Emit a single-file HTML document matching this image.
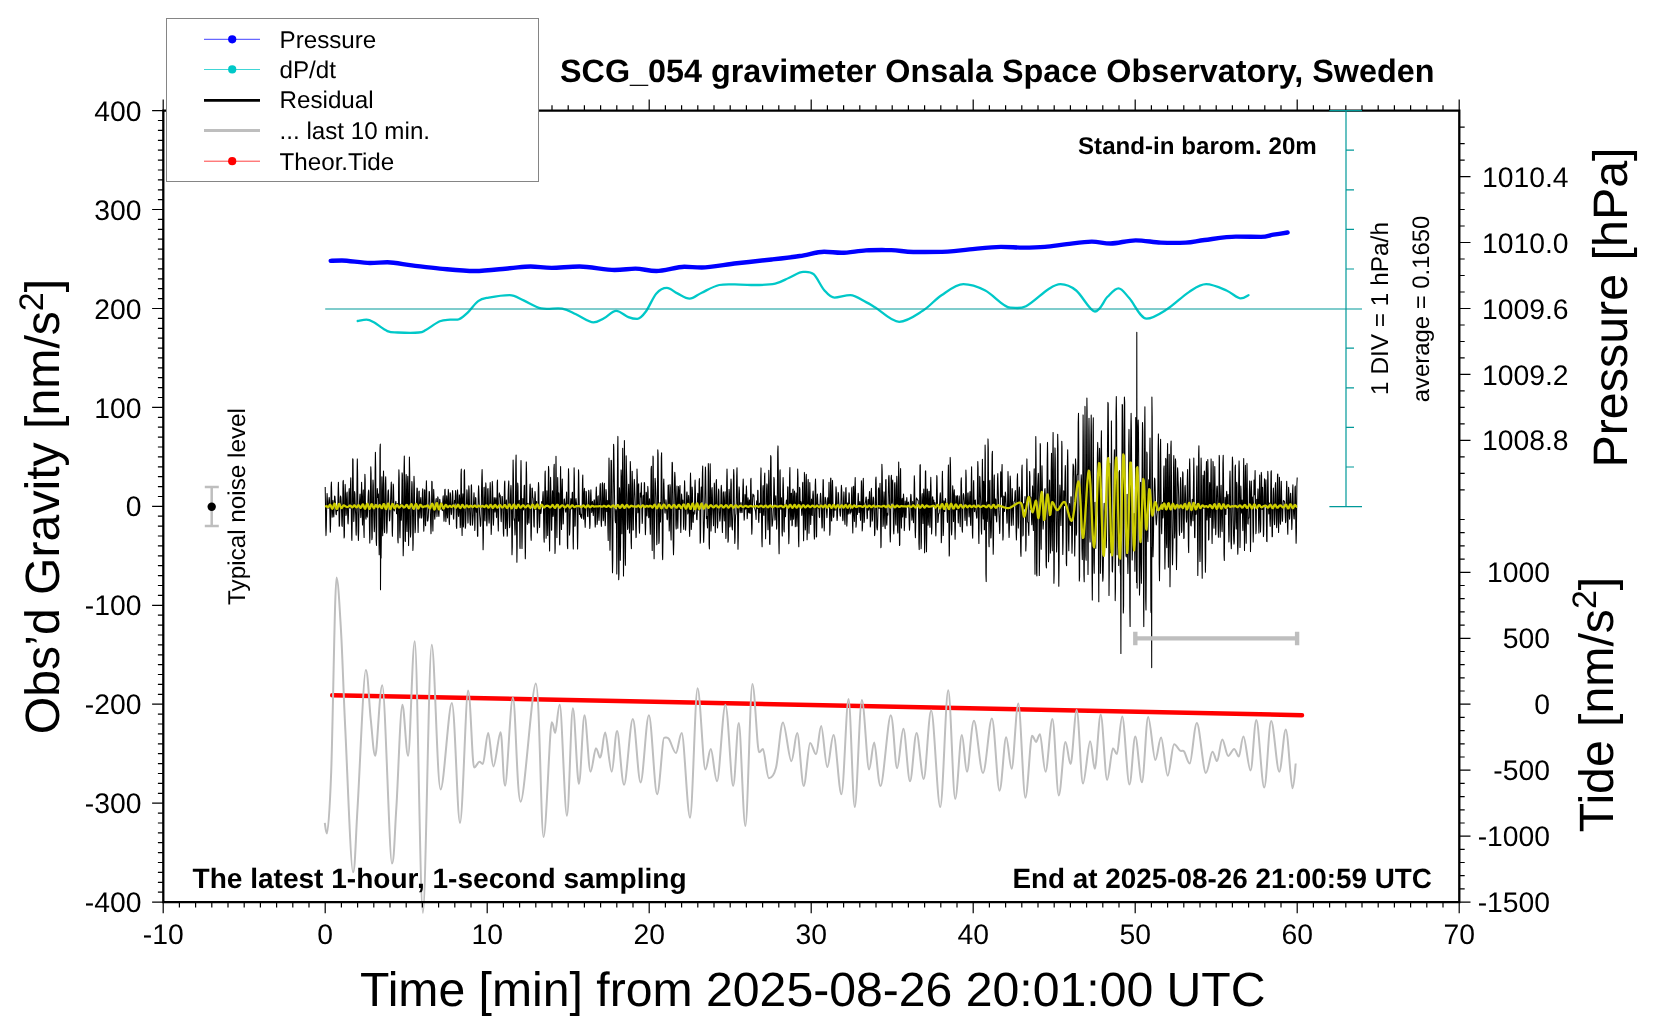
<!DOCTYPE html>
<html><head><meta charset="utf-8"><style>
html,body{margin:0;padding:0;background:#fff;}
svg{display:block;font-family:"Liberation Sans",sans-serif;will-change:transform;text-rendering:geometricPrecision;}
</style></head><body>
<svg width="1660" height="1020" viewBox="0 0 1660 1020">
<rect width="1660" height="1020" fill="#fff"/>
<path d="M332.2 695.2L1302 715.2" stroke="#ff0000" stroke-width="4.5" fill="none" stroke-linecap="round"/>
<path d="M324.8 822.9C325.1 824.7 325.8 833.5 326.9 833.5C328.0 833.5 329.6 814.4 331.2 771.7C332.8 729.1 334.9 577.6 336.5 577.6C338.1 577.6 339.5 605.3 341.0 630.6C342.5 655.9 343.3 689.1 345.3 729.4C347.3 769.7 350.9 872.3 353.0 872.3C355.1 872.3 355.5 840.7 357.6 807.0C359.7 773.3 363.6 670.1 365.8 670.1C368.0 670.1 369.1 704.5 370.7 718.8C372.3 733.1 373.4 755.8 375.3 755.8C377.2 755.8 379.5 685.3 382.3 685.3C385.1 685.3 389.5 863.5 391.9 863.5C394.2 863.5 394.6 833.5 396.4 807.0C398.1 780.5 400.4 704.7 402.4 704.7C404.3 704.7 406.0 755.8 408.1 755.8C410.2 755.8 412.3 641.2 414.8 641.2C417.3 641.2 420.1 912.9 422.9 912.9C425.7 912.9 428.8 644.7 431.7 644.7C434.6 644.7 437.2 789.4 440.6 789.4C444.0 789.4 448.6 702.9 451.8 702.9C455.0 702.9 457.3 822.9 460.0 822.9C462.7 822.9 465.8 690.6 468.1 690.6C470.5 690.6 472.2 767.5 474.1 767.5C476.0 767.5 477.9 761.8 479.4 761.8C480.9 761.8 481.4 764.0 482.9 764.0C484.4 764.0 486.4 732.9 488.2 732.9C490.0 732.9 491.4 766.4 493.5 766.4C495.6 766.4 498.6 732.2 500.5 732.2C502.4 732.2 503.0 785.8 505.1 785.8C507.2 785.8 510.3 697.6 512.9 697.6C515.5 697.6 516.9 801.7 520.7 801.7C524.5 801.7 532.0 683.5 535.8 683.5C539.6 683.5 541.0 837.0 543.6 837.0C546.2 837.0 549.8 722.3 551.7 722.3C553.6 722.3 553.9 732.9 555.2 732.9C556.6 732.9 557.8 704.7 559.8 704.7C561.8 704.7 564.7 815.8 566.9 815.8C569.1 815.8 570.9 708.2 572.9 708.2C574.9 708.2 577.0 784.0 578.9 784.0C580.8 784.0 582.6 715.3 584.5 715.3C586.4 715.3 588.6 771.7 590.5 771.7C592.4 771.7 594.3 748.3 595.9 748.3C597.5 748.3 598.9 757.7 599.9 757.7C600.9 757.7 600.9 756.0 601.8 751.8C602.7 747.6 603.6 732.5 605.3 732.5C606.9 732.5 609.7 771.8 611.7 771.8C613.7 771.8 615.0 731.1 617.1 731.1C619.2 731.1 621.5 784.8 624.1 784.8C626.7 784.8 630.0 718.9 632.8 718.9C635.5 718.9 637.9 782.4 640.6 782.4C643.3 782.4 646.1 715.3 648.9 715.3C651.6 715.3 654.5 794.2 657.1 794.2C659.7 794.2 662.2 737.7 664.2 737.7C666.2 737.7 667.0 736.4 668.9 738.9C670.8 741.4 673.8 753.0 675.9 753.0C678.0 753.0 679.4 733.0 681.8 733.0C684.1 733.0 687.4 817.7 690.0 817.7C692.6 817.7 695.1 688.3 697.6 688.3C700.1 688.3 703.1 769.5 705.3 769.5C707.5 769.5 708.8 749.0 710.8 749.0C712.8 749.0 714.7 781.3 717.1 781.3C719.5 781.3 722.7 704.7 725.4 704.7C728.1 704.7 730.9 786.0 733.1 786.0C735.3 786.0 736.8 723.1 738.8 723.1C740.8 723.1 743.1 826.0 745.4 826.0C747.7 826.0 750.1 684.0 752.4 684.0C754.7 684.0 757.2 752.3 759.0 752.3C760.8 752.3 761.4 749.0 763.0 749.0C764.6 749.0 766.7 778.2 768.9 778.2C771.1 778.2 773.6 777.1 776.0 767.8C778.4 758.5 780.5 722.4 783.0 722.4C785.5 722.4 788.9 761.2 791.3 761.2C793.7 761.2 795.1 733.0 797.2 733.0C799.3 733.0 801.6 786.0 803.7 786.0C805.9 786.0 808.1 742.9 810.1 742.9C812.1 742.9 814.1 754.2 816.0 754.2C817.9 754.2 819.3 725.9 821.2 725.9C823.1 725.9 825.2 767.1 827.3 767.1C829.4 767.1 831.2 734.9 833.6 734.9C836.0 734.9 838.9 794.2 841.4 794.2C843.9 794.2 846.3 698.9 848.5 698.9C850.7 698.9 852.6 807.1 854.8 807.1C857.0 807.1 859.5 700.0 861.9 700.0C864.3 700.0 867.0 769.5 869.0 769.5C871.0 769.5 872.3 742.4 874.2 742.4C876.1 742.4 877.9 786.0 880.6 786.0C883.4 786.0 888.0 715.3 890.7 715.3C893.5 715.3 895.0 768.3 897.1 768.3C899.2 768.3 901.2 728.8 903.4 728.8C905.5 728.8 907.8 781.3 910.0 781.3C912.2 781.3 914.3 733.0 916.6 733.0C918.9 733.0 921.3 778.9 923.7 778.9C926.1 778.9 928.5 710.6 931.2 710.6C934.0 710.6 937.4 807.1 940.2 807.1C943.0 807.1 945.7 690.2 948.2 690.2C950.7 690.2 952.9 798.9 955.2 798.9C957.5 798.9 959.8 734.9 961.8 734.9C963.8 734.9 965.0 771.8 967.0 771.8C969.0 771.8 971.3 720.8 974.0 720.8C976.7 720.8 980.0 773.0 983.0 773.0C986.0 773.0 989.1 718.4 991.9 718.4C994.6 718.4 997.1 790.7 999.5 790.7C1001.9 790.7 1004.1 737.2 1006.1 737.2C1008.1 737.2 1009.7 768.8 1011.7 768.8C1013.7 768.8 1016.0 703.6 1018.3 703.6C1020.6 703.6 1023.1 797.7 1025.4 797.7C1027.7 797.7 1030.2 735.8 1032.0 735.8C1033.8 735.8 1034.7 741.9 1036.0 741.9C1037.3 741.9 1038.4 734.2 1040.0 734.2C1041.6 734.2 1043.5 771.8 1045.6 771.8C1047.7 771.8 1050.2 718.9 1052.4 718.9C1054.6 718.9 1056.6 795.4 1058.8 795.4C1061.0 795.4 1063.4 741.9 1065.4 741.9C1067.4 741.9 1068.7 764.1 1070.6 764.1C1072.5 764.1 1074.6 709.9 1076.7 709.9C1078.8 709.9 1080.8 783.6 1083.0 783.6C1085.2 783.6 1088.1 741.2 1090.1 741.2C1092.1 741.2 1093.0 768.8 1094.8 768.8C1096.6 768.8 1098.7 714.6 1100.7 714.6C1102.8 714.6 1105.1 779.9 1107.1 779.9C1109.1 779.9 1111.3 748.2 1112.9 748.2C1114.5 748.2 1115.3 754.1 1116.9 754.1C1118.5 754.1 1120.2 716.4 1122.3 716.4C1124.4 716.4 1127.2 784.6 1129.4 784.6C1131.6 784.6 1133.2 736.4 1135.3 736.4C1137.4 736.4 1139.8 782.3 1141.9 782.3C1144.1 782.3 1146.0 716.9 1148.2 716.9C1150.4 716.9 1153.2 759.9 1155.3 759.9C1157.4 759.9 1159.0 737.6 1161.1 737.6C1163.2 737.6 1165.5 775.7 1167.7 775.7C1169.9 775.7 1172.0 744.2 1174.1 744.2C1176.1 744.2 1178.3 749.2 1180.0 750.5C1181.7 751.8 1182.6 749.5 1184.2 751.7C1185.8 753.9 1187.7 763.5 1189.8 763.5C1191.9 763.5 1194.2 723.0 1196.9 723.0C1199.6 723.0 1203.2 772.9 1205.8 772.9C1208.4 772.9 1210.5 751.7 1212.4 751.7C1214.3 751.7 1215.4 761.1 1217.1 761.1C1218.8 761.1 1220.4 739.5 1222.3 739.5C1224.2 739.5 1226.2 755.9 1228.2 755.9C1230.2 755.9 1232.3 748.9 1234.1 748.9C1235.9 748.9 1237.2 756.4 1238.8 756.4C1240.4 756.4 1241.5 736.4 1243.5 736.4C1245.5 736.4 1248.3 770.5 1250.5 770.5C1252.7 770.5 1254.1 720.0 1256.4 720.0C1258.7 720.0 1261.7 787.5 1264.2 787.5C1266.7 787.5 1268.7 721.1 1271.2 721.1C1273.7 721.1 1276.8 771.7 1279.2 771.7C1281.6 771.7 1283.6 729.4 1285.8 729.4C1288.0 729.4 1290.8 788.2 1292.4 788.2C1294.1 788.2 1295.2 767.6 1295.7 763.5" stroke="#bebebe" stroke-width="2.0" fill="none" stroke-linejoin="round"/>
<path d="M325.2 486.9L325.5 505.5L325.7 526.0L326.0 535.6L326.3 527.7L326.6 512.2L326.8 500.7L327.1 493.4L327.4 499.8L327.6 504.7L327.9 507.9L328.2 508.3L328.4 506.0L328.7 502.8L329.0 499.4L329.2 497.4L329.5 500.1L329.8 510.1L330.1 524.5L330.3 532.2L330.6 525.0L330.9 505.4L331.1 487.1L331.4 482.0L331.7 492.9L331.9 509.5L332.2 517.3L332.5 512.7L332.8 503.4L333.0 500.4L333.3 507.2L333.6 515.3L333.8 517.0L334.1 510.8L334.4 501.6L334.6 496.0L334.9 496.4L335.2 500.3L335.5 503.2L335.7 509.6L336.0 513.9L336.3 514.8L336.5 511.5L336.8 507.5L337.1 507.2L337.3 510.4L337.6 510.8L337.9 502.3L338.2 487.7L338.4 482.3L338.7 494.5L339.0 514.1L339.2 526.3L339.5 525.9L339.8 514.4L340.1 502.5L340.3 497.1L340.6 496.0L340.9 497.3L341.1 500.3L341.4 506.1L341.7 516.1L341.9 525.3L342.2 526.4L342.5 515.1L342.8 496.6L343.0 481.8L343.3 480.4L343.6 495.3L343.8 519.9L344.1 538.0L344.4 536.1L344.6 516.4L344.9 494.4L345.2 484.4L345.4 490.7L345.7 505.5L346.0 515.4L346.3 513.7L346.5 503.8L346.8 493.9L347.1 492.1L347.3 497.8L347.6 513.2L347.9 522.6L348.1 524.0L348.4 517.9L348.7 506.2L349.0 491.7L349.2 488.6L349.5 497.4L349.8 507.5L350.0 508.2L350.3 497.4L350.6 481.7L350.8 477.7L351.1 495.1L351.4 519.9L351.7 538.0L351.9 540.5L352.2 523.5L352.5 490.4L352.7 458.8L353.0 459.2L353.3 487.0L353.6 513.7L353.8 521.4L354.1 515.3L354.4 502.5L354.6 491.6L354.9 493.7L355.2 503.0L355.4 510.1L355.7 514.9L356.0 531.3L356.2 535.2L356.5 524.1L356.8 499.5L357.1 470.7L357.3 458.9L357.6 472.8L357.9 503.4L358.1 531.7L358.4 540.4L358.7 531.6L358.9 518.4L359.2 509.3L359.5 502.8L359.8 496.4L360.0 494.0L360.3 501.5L360.6 513.0L360.8 517.6L361.1 509.1L361.4 490.9L361.6 482.2L361.9 493.8L362.2 514.7L362.5 524.9L362.7 515.4L363.0 496.4L363.3 489.9L363.5 505.4L363.8 528.9L364.1 537.4L364.3 520.3L364.6 491.2L364.9 474.3L365.2 480.6L365.4 501.1L365.7 517.7L366.0 519.2L366.2 511.0L366.5 506.0L366.8 509.3L367.1 515.7L367.3 517.1L367.6 511.8L367.9 503.7L368.1 496.7L368.4 491.7L368.7 490.0L368.9 492.2L369.2 508.5L369.5 530.9L369.8 543.1L370.0 535.0L370.3 510.1L370.6 481.2L370.8 466.7L371.1 473.2L371.4 496.0L371.6 522.7L371.9 539.8L372.2 537.5L372.4 516.4L372.7 492.2L373.0 480.0L373.3 484.8L373.5 500.2L373.8 515.8L374.1 526.6L374.3 531.7L374.6 526.5L374.9 505.6L375.1 472.7L375.4 452.3L375.7 467.5L376.0 511.7L376.2 541.0L376.5 545.5L376.8 523.9L377.0 498.5L377.3 488.6L377.6 492.4L377.8 497.4L378.1 495.2L378.4 494.0L378.7 507.7L378.9 535.8L379.2 554.7L379.5 539.6L379.7 492.9L380.0 448.7L380.3 444.1L380.5 589.7L380.8 538.0L381.1 557.9L381.4 533.5L381.6 493.3L381.9 476.8L382.2 496.6L382.4 526.9L382.7 535.7L383.0 515.1L383.2 484.7L383.5 471.1L383.8 483.3L384.1 508.8L384.3 528.5L384.6 532.7L384.9 522.2L385.1 504.4L385.4 484.0L385.7 476.7L385.9 484.7L386.2 502.8L386.5 522.6L386.8 533.3L387.0 531.0L387.3 519.2L387.6 505.1L387.8 496.3L388.1 490.8L388.4 489.9L388.6 495.0L388.9 505.5L389.2 515.2L389.5 520.9L389.7 520.3L390.0 515.1L390.3 508.9L390.5 502.4L390.8 494.3L391.1 485.5L391.3 482.1L391.6 491.4L391.9 512.4L392.2 531.4L392.4 536.3L392.7 522.9L393.0 500.7L393.2 484.1L393.5 486.0L393.8 499.4L394.0 509.6L394.3 511.0L394.6 508.3L394.9 506.6L395.1 506.3L395.4 504.6L395.7 501.6L395.9 501.4L396.2 506.0L396.5 513.7L396.8 512.4L397.0 504.6L397.3 503.5L397.6 516.9L397.8 539.2L398.1 543.0L398.4 513.9L398.6 484.9L398.9 469.7L399.2 477.7L399.4 503.1L399.7 531.1L400.0 537.8L400.3 523.8L400.5 507.0L400.8 504.2L401.1 513.3L401.3 520.3L401.6 510.9L401.9 490.0L402.1 472.8L402.4 475.1L402.7 500.4L403.0 536.1L403.2 555.7L403.5 544.4L403.8 509.0L404.0 470.6L404.3 456.0L404.6 474.9L404.9 513.1L405.1 541.2L405.4 541.5L405.7 515.5L405.9 483.6L406.2 474.5L406.5 495.9L406.7 523.6L407.0 531.4L407.3 514.9L407.5 484.4L407.8 476.3L408.1 497.5L408.4 532.8L408.6 545.6L408.9 522.7L409.2 480.7L409.4 457.1L409.7 470.7L410.0 504.5L410.2 528.2L410.5 537.1L410.8 533.3L411.1 521.8L411.3 505.2L411.6 491.0L411.9 481.5L412.1 484.0L412.4 500.2L412.7 530.0L412.9 550.6L413.2 543.4L413.5 511.4L413.8 486.9L414.0 476.2L414.3 483.1L414.6 502.1L414.8 523.1L415.1 532.8L415.4 528.4L415.6 517.5L415.9 508.8L416.2 504.9L416.5 501.6L416.7 495.0L417.0 488.0L417.3 488.6L417.5 501.1L417.8 520.9L418.1 532.5L418.3 525.5L418.6 505.2L418.9 491.5L419.2 491.1L419.4 502.9L419.7 517.0L420.0 518.1L420.2 510.0L420.5 500.2L420.8 497.5L421.0 503.7L421.3 512.9L421.6 518.1L421.9 515.6L422.1 506.2L422.4 493.2L422.7 488.8L422.9 490.5L423.2 502.6L423.5 520.6L423.8 531.2L424.0 525.0L424.3 505.7L424.6 489.8L424.8 490.0L425.1 506.4L425.4 524.6L425.6 525.8L425.9 508.0L426.2 487.4L426.4 480.7L426.7 491.7L427.0 509.4L427.3 520.6L427.5 521.1L427.8 521.0L428.1 518.6L428.3 516.6L428.6 508.7L428.9 498.6L429.1 491.5L429.4 491.7L429.7 497.7L430.0 504.1L430.2 510.2L430.5 518.3L430.8 528.6L431.0 533.7L431.3 523.4L431.6 499.9L431.8 481.3L432.1 481.7L432.4 500.9L432.7 524.8L432.9 531.1L433.2 515.6L433.5 496.6L433.7 489.4L434.0 496.5L434.3 506.0L434.5 515.9L434.8 519.2L435.1 515.1L435.4 511.5L435.6 505.4L435.9 500.1L436.2 498.6L436.4 503.1L436.7 511.7L437.0 516.6L437.2 512.2L437.5 502.9L437.8 496.8L438.1 498.1L438.3 505.8L438.6 514.3L438.9 516.4L439.1 511.9L439.4 504.6L439.7 499.3L439.9 499.5L440.2 504.1L440.5 508.2L440.8 509.1L441.0 507.0L441.3 503.7L441.6 503.2L441.8 506.7L442.1 510.0L442.4 510.6L442.6 507.2L442.9 499.0L443.2 495.7L443.5 502.0L443.7 513.7L444.0 521.2L444.3 516.6L444.5 502.5L444.8 489.7L445.1 489.2L445.4 501.5L445.6 516.2L445.9 521.7L446.2 514.4L446.4 501.9L446.7 495.8L447.0 501.6L447.2 512.7L447.5 517.9L447.8 511.7L448.0 498.5L448.3 489.4L448.6 492.7L448.9 506.4L449.1 520.7L449.4 524.6L449.7 513.4L449.9 501.4L450.2 492.7L450.5 494.6L450.8 504.3L451.0 511.7L451.3 514.6L451.6 513.1L451.8 508.8L452.1 501.7L452.4 493.9L452.6 490.5L452.9 496.4L453.2 509.0L453.4 517.6L453.7 519.2L454.0 512.7L454.3 504.1L454.5 500.4L454.8 502.7L455.1 502.9L455.3 496.8L455.6 490.6L455.9 495.3L456.1 511.9L456.4 526.9L456.7 528.5L457.0 514.6L457.2 496.3L457.5 489.9L457.8 494.2L458.0 505.2L458.3 514.6L458.6 516.4L458.9 510.7L459.1 501.3L459.4 494.9L459.7 499.1L459.9 514.0L460.2 527.6L460.5 524.8L460.7 502.4L461.0 474.6L461.3 469.1L461.5 493.4L461.8 524.6L462.1 535.5L462.4 520.6L462.6 498.4L462.9 493.8L463.2 511.2L463.4 527.0L463.7 522.2L464.0 496.8L464.2 471.4L464.5 469.7L464.8 491.4L465.1 516.4L465.3 528.3L465.6 526.7L465.9 519.0L466.1 513.0L466.4 504.1L466.7 495.3L466.9 489.8L467.2 493.3L467.5 505.4L467.8 519.6L468.0 523.1L468.3 513.7L468.6 496.6L468.8 485.8L469.1 489.5L469.4 500.4L469.6 510.6L469.9 518.7L470.2 524.6L470.5 525.3L470.7 515.9L471.0 498.7L471.3 485.1L471.5 484.9L471.8 496.9L472.1 513.7L472.4 525.2L472.6 524.2L472.9 519.4L473.2 515.2L473.4 506.8L473.7 498.6L474.0 492.7L474.2 496.9L474.5 512.7L474.8 530.5L475.0 526.3L475.3 505.2L475.6 497.5L475.9 498.4L476.1 505.1L476.4 512.2L476.7 508.5L476.9 507.6L477.2 519.5L477.5 536.3L477.8 536.2L478.0 509.3L478.3 493.4L478.6 485.7L478.8 489.2L479.1 499.0L479.4 508.2L479.6 514.2L479.9 518.4L480.2 523.1L480.4 526.4L480.7 525.3L481.0 518.9L481.3 507.5L481.5 493.1L481.8 477.8L482.1 469.5L482.3 477.7L482.6 503.2L482.9 535.0L483.1 549.7L483.4 537.3L483.7 508.7L484.0 487.7L484.2 487.3L484.5 503.5L484.8 519.9L485.0 521.0L485.3 506.6L485.6 489.2L485.8 482.9L486.1 488.5L486.4 510.8L486.7 524.4L486.9 525.9L487.2 519.7L487.5 501.1L487.7 489.4L488.0 488.5L488.3 497.1L488.5 509.4L488.8 519.1L489.1 523.1L489.4 518.5L489.6 505.7L489.9 490.5L490.2 482.6L490.4 488.3L490.7 505.7L491.0 525.2L491.2 534.5L491.5 527.6L491.8 508.9L492.1 490.3L492.3 481.4L492.6 486.5L492.9 502.0L493.1 518.3L493.4 525.3L493.7 519.4L493.9 506.7L494.2 497.6L494.5 499.1L494.8 507.4L495.0 512.1L495.3 509.1L495.6 500.3L495.8 497.7L496.1 504.8L496.4 516.5L496.6 517.7L496.9 504.5L497.2 482.7L497.5 480.1L497.7 501.0L498.0 522.4L498.3 531.1L498.5 523.3L498.8 508.0L499.1 494.8L499.4 492.9L499.6 496.2L499.9 496.7L500.2 495.0L500.4 498.1L500.7 508.4L501.0 518.8L501.2 521.8L501.5 514.3L501.8 503.0L502.0 496.6L502.3 496.5L502.6 501.0L502.9 508.7L503.1 521.6L503.4 533.5L503.7 536.3L503.9 522.0L504.2 498.7L504.5 483.4L504.8 481.1L505.0 493.5L505.3 513.5L505.6 528.6L505.8 521.3L506.1 504.7L506.4 499.9L506.6 504.9L506.9 522.9L507.2 536.3L507.4 534.2L507.7 520.1L508.0 500.5L508.3 489.7L508.5 485.1L508.8 480.9L509.1 499.3L509.3 517.9L509.6 527.8L509.9 525.4L510.1 513.4L510.4 499.8L510.7 489.6L511.0 485.4L511.2 490.8L511.5 508.8L511.8 535.9L512.0 554.7L512.3 546.8L512.6 510.4L512.9 474.9L513.1 460.1L513.4 473.5L513.7 499.9L513.9 517.8L514.2 520.5L514.5 519.0L514.7 525.5L515.0 534.9L515.3 528.8L515.5 499.0L515.8 464.3L516.1 455.0L516.4 485.0L516.6 534.5L516.9 562.2L517.2 544.1L517.4 501.6L517.7 483.0L518.0 486.2L518.2 503.8L518.5 521.3L518.8 516.0L519.1 501.7L519.3 500.3L519.6 519.5L519.9 546.7L520.1 548.6L520.4 514.5L520.7 478.7L521.0 460.5L521.2 471.4L521.5 502.7L521.8 538.3L522.0 548.5L522.3 532.0L522.6 507.9L522.8 498.5L523.1 502.0L523.4 509.9L523.6 509.1L523.9 497.7L524.2 485.7L524.5 485.2L524.7 502.0L525.0 535.6L525.3 558.8L525.5 550.6L525.8 514.2L526.1 477.3L526.3 461.9L526.6 474.3L526.9 500.8L527.2 522.3L527.4 524.5L527.7 513.0L528.0 503.2L528.2 503.9L528.5 513.4L528.8 522.7L529.0 523.1L529.3 514.6L529.6 498.5L529.9 486.6L530.1 484.1L530.4 488.4L530.7 512.3L530.9 536.0L531.2 540.4L531.5 525.0L531.8 502.6L532.0 488.4L532.3 488.1L532.6 494.3L532.8 497.7L533.1 498.0L533.4 503.7L533.6 514.9L533.9 525.8L534.2 527.1L534.4 514.9L534.7 499.3L535.0 491.6L535.3 494.5L535.5 503.1L535.8 509.4L536.1 507.5L536.3 502.4L536.6 501.4L536.9 508.3L537.1 523.1L537.4 532.9L537.7 528.1L538.0 508.5L538.2 491.4L538.5 482.5L538.8 487.0L539.0 501.6L539.3 520.3L539.6 527.4L539.8 519.8L540.1 508.5L540.4 505.2L540.7 509.0L540.9 513.5L541.2 511.1L541.5 504.7L541.7 501.6L542.0 502.7L542.3 504.9L542.5 503.5L542.8 495.8L543.1 491.6L543.4 498.4L543.6 517.4L543.9 537.6L544.2 542.3L544.4 525.4L544.7 496.5L545.0 474.1L545.2 471.0L545.5 490.3L545.8 520.0L546.1 538.2L546.3 530.4L546.6 506.1L546.9 490.8L547.1 497.5L547.4 520.6L547.7 535.4L548.0 522.4L548.2 490.4L548.5 466.4L548.8 469.8L549.0 498.2L549.3 535.5L549.6 551.0L549.8 536.0L550.1 505.0L550.4 482.5L550.6 477.2L550.9 491.0L551.2 514.0L551.5 530.2L551.7 530.1L552.0 514.8L552.3 496.3L552.5 490.8L552.8 503.7L553.1 516.5L553.4 514.6L553.6 493.8L553.9 468.5L554.2 464.2L554.4 490.6L554.7 528.7L555.0 553.4L555.2 548.6L555.5 515.8L555.8 472.2L556.0 456.3L556.3 481.9L556.6 520.9L556.9 537.6L557.1 524.4L557.4 495.3L557.7 477.5L557.9 486.7L558.2 503.1L558.5 503.9L558.8 492.8L559.0 494.1L559.3 517.9L559.6 543.8L559.8 544.9L560.1 515.4L560.4 477.4L560.6 466.6L560.9 490.5L561.2 520.7L561.5 529.5L561.7 513.6L562.0 488.7L562.3 479.1L562.5 491.5L562.8 512.0L563.1 524.0L563.3 523.3L563.6 513.6L563.9 504.9L564.1 499.7L564.4 498.9L564.7 502.1L565.0 503.9L565.2 506.8L565.5 511.0L565.8 512.2L566.0 506.4L566.3 497.7L566.6 492.1L566.8 498.3L567.1 520.3L567.4 545.7L567.7 548.7L567.9 521.2L568.2 487.2L568.5 468.7L568.7 473.8L569.0 495.9L569.3 522.0L569.5 535.1L569.8 531.8L570.1 521.1L570.4 509.8L570.6 501.9L570.9 498.5L571.2 500.7L571.4 506.3L571.7 508.9L572.0 501.7L572.2 493.0L572.5 492.2L572.8 511.7L573.1 541.0L573.3 548.9L573.6 524.5L573.9 487.6L574.1 467.8L574.4 477.9L574.7 505.1L574.9 526.2L575.2 525.5L575.5 511.1L575.8 499.8L576.0 498.5L576.3 501.8L576.6 503.6L576.8 505.2L577.1 511.8L577.4 539.0L577.6 548.9L577.9 530.9L578.2 498.0L578.5 469.8L578.7 472.6L579.0 492.8L579.3 506.4L579.5 514.4L579.8 510.1L580.1 507.6L580.3 511.7L580.6 516.6L580.9 517.1L581.2 514.2L581.4 514.9L581.7 518.4L582.0 515.4L582.2 501.6L582.5 480.9L582.8 475.0L583.0 491.2L583.3 512.7L583.6 519.3L583.9 510.7L584.1 492.8L584.4 488.3L584.7 505.2L584.9 521.7L585.2 527.4L585.5 518.2L585.8 502.0L586.0 491.3L586.3 491.9L586.6 498.1L586.8 503.6L587.1 507.5L587.4 512.0L587.6 516.4L587.9 516.6L588.2 509.4L588.5 498.1L588.7 490.2L589.0 492.1L589.3 504.1L589.5 519.6L589.8 528.4L590.1 524.4L590.3 509.9L590.6 495.3L590.9 489.7L591.1 495.5L591.4 506.2L591.7 512.5L592.0 509.9L592.2 503.1L592.5 501.4L592.8 504.8L593.0 512.0L593.3 515.6L593.6 511.9L593.8 504.4L594.1 499.7L594.4 500.1L594.7 505.8L594.9 520.0L595.2 527.1L595.5 523.5L595.7 507.3L596.0 493.9L596.3 487.0L596.5 492.4L596.8 507.2L597.1 524.5L597.4 521.2L597.6 508.0L597.9 496.7L598.2 495.8L598.4 506.6L598.7 516.7L599.0 520.5L599.2 516.1L599.5 506.8L599.8 494.2L600.1 485.2L600.3 483.5L600.6 492.3L600.9 509.2L601.1 521.9L601.4 526.4L601.7 518.8L601.9 502.5L602.2 484.3L602.5 482.7L602.8 497.6L603.0 513.8L603.3 520.8L603.6 516.4L603.8 502.4L604.1 485.0L604.4 483.3L604.6 499.9L604.9 517.9L605.2 525.7L605.5 520.8L605.7 501.3L606.0 489.5L606.3 492.9L606.5 505.0L606.8 511.6L607.1 506.2L607.4 500.4L607.6 508.6L607.9 529.6L608.2 540.5L608.4 521.6L608.7 483.5L609.0 458.0L609.2 467.7L609.5 506.4L609.8 540.9L610.0 550.3L610.3 532.5L610.6 502.7L610.9 475.2L611.1 460.2L611.4 460.6L611.7 480.2L611.9 516.5L612.2 553.9L612.5 572.7L612.8 559.4L613.0 521.6L613.3 472.6L613.6 444.2L613.8 447.4L614.1 467.9L614.4 486.4L614.6 500.6L614.9 511.8L615.2 520.4L615.5 522.8L615.7 516.9L616.0 509.6L616.3 511.5L616.5 529.2L616.8 574.0L617.1 555.9L617.3 495.5L617.6 451.7L617.9 436.4L618.1 463.3L618.4 517.8L618.7 579.7L619.0 573.3L619.2 517.2L619.5 487.7L619.8 494.4L620.0 531.2L620.3 560.3L620.6 544.4L620.8 497.8L621.1 469.9L621.4 476.7L621.7 508.2L621.9 533.7L622.2 513.8L622.5 467.2L622.7 448.2L623.0 485.7L623.3 546.9L623.5 576.1L623.8 547.2L624.1 484.2L624.4 440.6L624.6 455.9L624.9 512.9L625.2 558.3L625.4 565.3L625.7 534.7L626.0 489.6L626.2 455.8L626.5 470.7L626.8 482.1L627.1 501.2L627.3 521.3L627.6 529.5L627.9 527.8L628.1 513.3L628.4 493.2L628.7 484.2L629.0 496.8L629.2 520.3L629.5 533.0L629.8 520.1L630.0 487.0L630.3 461.5L630.6 469.8L630.8 507.9L631.1 542.4L631.4 548.6L631.6 523.3L631.9 487.9L632.2 471.2L632.5 484.4L632.7 512.0L633.0 530.1L633.3 530.0L633.5 515.7L633.8 497.3L634.1 484.6L634.3 479.4L634.6 485.1L634.9 493.6L635.2 502.6L635.4 513.2L635.7 526.4L636.0 537.6L636.2 536.7L636.5 519.3L636.8 489.7L637.0 469.1L637.3 477.2L637.6 501.9L637.9 512.8L638.1 504.9L638.4 485.4L638.7 483.8L638.9 506.9L639.2 527.3L639.5 533.2L639.8 521.3L640.0 503.9L640.3 493.0L640.6 494.7L640.8 497.0L641.1 489.9L641.4 482.8L641.6 495.5L641.9 514.0L642.2 523.4L642.4 521.3L642.7 510.6L643.0 496.5L643.3 495.2L643.5 503.9L643.8 505.0L644.1 494.8L644.3 482.5L644.6 483.6L644.9 503.0L645.1 524.1L645.4 534.7L645.7 527.5L646.0 508.8L646.2 492.2L646.5 493.9L646.8 508.5L647.0 516.0L647.3 509.8L647.6 495.8L647.8 486.4L648.1 490.7L648.4 505.9L648.7 517.7L648.9 516.9L649.2 505.9L649.5 498.8L649.7 505.6L650.0 524.0L650.3 534.2L650.5 525.1L650.8 497.0L651.1 469.4L651.4 466.3L651.6 493.7L651.9 531.7L652.2 550.5L652.4 533.2L652.7 490.9L653.0 456.0L653.2 457.5L653.5 494.9L653.8 539.0L654.1 558.7L654.3 544.5L654.6 512.5L654.9 486.5L655.1 478.2L655.4 482.2L655.7 489.1L656.0 497.4L656.2 511.6L656.5 530.9L656.8 544.7L657.0 539.9L657.3 513.5L657.6 475.2L657.8 449.8L658.1 454.0L658.4 485.4L658.6 524.6L658.9 543.5L659.2 540.5L659.5 521.6L659.7 504.5L660.0 502.5L660.3 513.7L660.5 521.9L660.8 513.1L661.1 485.7L661.3 457.7L661.6 452.7L661.9 478.1L662.2 521.6L662.4 554.1L662.7 559.6L663.0 538.3L663.2 507.3L663.5 484.6L663.8 479.1L664.0 486.0L664.3 497.0L664.6 506.5L664.9 512.4L665.1 513.2L665.4 509.6L665.7 503.6L665.9 499.7L666.2 502.4L666.5 507.6L666.8 514.4L667.0 519.2L667.3 519.8L667.6 517.8L667.8 506.2L668.1 485.3L668.4 485.1L668.6 492.3L668.9 512.6L669.2 531.0L669.5 524.3L669.7 501.2L670.0 484.5L670.3 487.9L670.5 510.2L670.8 532.6L671.1 540.0L671.3 528.0L671.6 504.0L671.9 478.1L672.1 462.2L672.4 462.9L672.7 482.5L673.0 514.6L673.2 543.1L673.5 554.8L673.8 544.3L674.0 519.6L674.3 493.9L674.6 477.2L674.8 472.3L675.1 477.1L675.4 490.2L675.7 509.2L675.9 524.9L676.2 529.1L676.5 518.1L676.7 498.3L677.0 486.0L677.3 497.6L677.5 518.6L677.8 528.2L678.1 516.7L678.4 495.7L678.6 486.5L678.9 494.9L679.2 509.4L679.4 508.4L679.7 492.9L680.0 485.5L680.2 502.3L680.5 523.8L680.8 532.4L681.1 520.4L681.3 501.5L681.6 494.0L681.9 498.4L682.1 506.1L682.4 507.0L682.7 501.4L682.9 500.0L683.2 509.8L683.5 525.9L683.8 529.4L684.0 513.3L684.3 492.0L684.6 480.8L684.8 487.3L685.1 505.5L685.4 523.9L685.6 530.2L685.9 524.4L686.2 512.4L686.5 500.7L686.7 493.2L687.0 491.9L687.3 497.5L687.5 506.7L687.8 514.0L688.1 512.4L688.3 503.9L688.6 495.4L688.9 499.4L689.2 515.1L689.4 531.0L689.7 536.4L690.0 516.0L690.2 487.7L690.5 473.1L690.8 483.6L691.0 509.6L691.3 529.4L691.6 524.2L691.9 502.1L692.1 487.0L692.4 490.6L692.7 507.1L692.9 521.8L693.2 522.4L693.5 514.8L693.8 512.1L694.0 514.3L694.3 514.0L694.6 503.6L694.8 487.3L695.1 480.0L695.4 490.3L695.6 500.3L695.9 506.8L696.2 513.4L696.5 514.5L696.7 519.4L697.0 519.7L697.3 512.3L697.5 500.1L697.8 493.2L698.1 498.8L698.3 508.8L698.6 510.0L698.9 498.4L699.1 482.0L699.4 478.5L699.7 497.2L700.0 525.0L700.2 543.2L700.5 539.6L700.8 518.4L701.0 495.1L701.3 487.1L701.6 495.6L701.8 501.9L702.1 492.0L702.4 472.8L702.7 466.1L702.9 485.6L703.2 517.6L703.5 538.4L703.7 542.4L704.0 533.6L704.3 524.6L704.5 514.3L704.8 499.9L705.1 481.0L705.4 467.1L705.6 470.4L705.9 490.3L706.2 511.0L706.4 518.5L706.7 516.6L707.0 516.6L707.2 523.7L707.5 528.0L707.8 515.6L708.1 486.4L708.3 463.5L708.6 472.3L708.9 510.6L709.1 544.8L709.4 549.0L709.7 519.7L710.0 479.8L710.2 463.7L710.5 482.3L710.8 514.3L711.0 531.1L711.3 525.1L711.6 506.5L711.8 490.2L712.1 487.6L712.4 495.5L712.6 506.1L712.9 513.9L713.2 519.0L713.5 525.7L713.7 515.7L714.0 499.9L714.3 483.1L714.5 485.2L714.8 504.7L715.1 525.6L715.3 532.6L715.6 520.6L715.9 498.6L716.2 481.3L716.4 479.6L716.7 491.6L717.0 508.8L717.2 522.2L717.5 528.0L717.8 523.5L718.0 510.1L718.3 496.6L718.6 489.1L718.9 491.3L719.1 501.2L719.4 512.2L719.7 519.4L719.9 521.2L720.2 518.5L720.5 511.8L720.8 501.8L721.0 491.1L721.3 485.3L721.6 490.0L721.8 505.0L722.1 523.7L722.4 532.5L722.6 524.6L722.9 505.7L723.2 493.4L723.4 491.7L723.7 501.1L724.0 515.3L724.3 521.0L724.5 511.6L724.8 497.8L725.1 491.8L725.3 500.3L725.6 521.5L725.9 538.4L726.1 534.2L726.4 509.2L726.7 482.7L727.0 469.0L727.2 475.8L727.5 497.9L727.8 525.6L728.0 542.3L728.3 539.6L728.6 521.2L728.8 499.8L729.1 489.2L729.4 493.4L729.7 509.1L729.9 526.9L730.2 525.2L730.5 504.9L730.7 488.5L731.0 479.0L731.3 483.5L731.5 513.1L731.8 526.2L732.1 527.6L732.4 530.0L732.6 520.9L732.9 513.3L733.2 499.5L733.4 481.6L733.7 469.5L734.0 476.0L734.2 500.2L734.5 529.2L734.8 543.4L735.1 537.7L735.3 523.7L735.6 515.3L735.9 513.9L736.1 509.1L736.4 494.7L736.7 476.2L737.0 467.7L737.2 479.3L737.5 506.6L737.8 537.7L738.0 549.2L738.3 537.5L738.6 513.7L738.8 494.5L739.1 486.9L739.4 490.6L739.6 500.4L739.9 509.5L740.2 512.8L740.5 510.5L740.7 506.2L741.0 502.6L741.3 505.8L741.5 510.0L741.8 512.6L742.1 512.5L742.3 508.5L742.6 499.0L742.9 486.4L743.2 479.1L743.4 484.8L743.7 505.1L744.0 516.0L744.2 520.1L744.5 515.1L744.8 505.4L745.0 494.6L745.3 501.1L745.6 509.1L745.9 508.5L746.1 496.4L746.4 485.9L746.7 493.2L746.9 510.4L747.2 518.7L747.5 514.5L747.8 502.9L748.0 497.8L748.3 504.2L748.6 512.1L748.8 512.7L749.1 506.0L749.4 499.9L749.6 504.9L749.9 513.2L750.2 513.2L750.5 499.1L750.7 480.3L751.0 478.3L751.3 499.4L751.5 523.1L751.8 534.2L752.1 528.1L752.3 512.7L752.6 498.8L752.9 494.1L753.1 495.7L753.4 496.2L753.7 494.8L754.0 495.7L754.2 500.9L754.5 506.7L754.8 508.9L755.0 509.4L755.3 510.5L755.6 512.6L755.8 515.2L756.1 519.6L756.4 505.1L756.7 500.7L756.9 507.1L757.2 508.8L757.5 500.2L757.7 490.2L758.0 490.5L758.3 504.8L758.5 519.0L758.8 522.5L759.1 513.7L759.4 503.3L759.6 503.3L759.9 511.3L760.2 512.8L760.4 499.1L760.7 477.2L761.0 467.9L761.2 482.8L761.5 513.7L761.8 539.2L762.1 546.8L762.3 533.5L762.6 509.4L762.9 488.6L763.1 485.5L763.4 499.4L763.7 514.6L763.9 515.5L764.2 498.5L764.5 477.2L764.8 473.1L765.0 495.7L765.3 521.8L765.6 538.8L765.8 529.4L766.1 518.3L766.4 504.8L766.6 489.0L766.9 483.8L767.2 485.2L767.5 500.7L767.7 520.6L768.0 529.7L768.3 518.3L768.5 490.6L768.8 470.2L769.1 482.3L769.3 517.4L769.6 543.3L769.9 544.5L770.2 520.1L770.4 481.7L770.7 455.5L771.0 457.1L771.2 478.7L771.5 504.9L771.8 520.1L772.0 526.3L772.3 525.6L772.6 522.0L772.9 518.7L773.1 514.9L773.4 507.2L773.7 491.4L773.9 477.4L774.2 479.0L774.5 494.3L774.8 517.0L775.0 520.1L775.3 511.0L775.6 499.1L775.8 495.8L776.1 508.6L776.4 522.0L776.6 529.1L776.9 524.0L777.2 508.4L777.5 478.0L777.7 452.3L778.0 445.9L778.3 468.4L778.5 511.8L778.8 542.0L779.1 553.7L779.3 537.9L779.6 505.2L779.9 471.8L780.1 469.8L780.4 490.9L780.7 509.0L781.0 509.2L781.2 499.2L781.5 497.7L781.8 512.7L782.0 532.1L782.3 536.1L782.6 516.6L782.8 490.0L783.1 477.5L783.4 485.2L783.7 503.9L783.9 529.2L784.2 532.0L784.5 517.1L784.7 505.1L785.0 505.1L785.3 512.4L785.5 516.7L785.8 511.0L786.1 503.2L786.4 500.1L786.6 502.2L786.9 506.2L787.2 507.1L787.4 498.0L787.7 486.7L788.0 487.1L788.2 506.0L788.5 529.5L788.8 543.7L789.1 535.4L789.3 508.1L789.6 475.8L789.9 467.6L790.1 487.2L790.4 512.5L790.7 520.0L791.0 509.1L791.2 493.2L791.5 493.4L791.8 511.0L792.0 525.8L792.3 525.1L792.6 508.9L792.8 489.6L793.1 489.1L793.4 506.8L793.6 519.3L793.9 512.9L794.2 498.6L794.5 491.0L794.7 496.5L795.0 513.2L795.3 526.7L795.5 523.3L795.8 506.0L796.1 492.9L796.3 497.2L796.6 515.0L796.9 526.2L797.2 514.7L797.4 487.8L797.7 469.1L798.0 477.2L798.2 508.5L798.5 539.4L798.8 546.8L799.0 528.8L799.3 502.6L799.6 487.3L799.9 489.3L800.1 499.7L800.4 506.1L800.7 504.9L800.9 501.6L801.2 503.2L801.5 509.9L801.8 515.4L802.0 513.5L802.3 502.6L802.6 483.2L802.8 482.3L803.1 503.9L803.4 530.5L803.6 540.7L803.9 524.8L804.2 493.6L804.4 472.4L804.7 481.1L805.0 509.7L805.3 530.0L805.5 526.6L805.8 502.4L806.1 477.2L806.3 474.2L806.6 495.8L806.9 524.6L807.1 539.8L807.4 531.3L807.7 505.6L808.0 482.1L808.2 479.4L808.5 498.9L808.8 524.6L809.0 533.3L809.3 517.6L809.6 493.3L809.8 482.6L810.1 493.0L810.4 513.2L810.7 524.5L810.9 518.4L811.2 504.6L811.5 499.0L811.7 505.3L812.0 515.1L812.3 515.5L812.5 504.3L812.8 495.0L813.1 491.0L813.4 495.0L813.6 505.0L813.9 521.4L814.2 535.1L814.4 539.1L814.7 527.6L815.0 503.4L815.2 485.5L815.5 479.0L815.8 489.5L816.1 512.6L816.3 537.0L816.6 536.5L816.9 515.8L817.1 498.3L817.4 494.0L817.7 499.8L818.0 506.9L818.2 508.2L818.5 505.2L818.8 504.9L819.0 510.3L819.3 516.9L819.6 517.6L819.8 510.6L820.1 500.9L820.4 494.4L820.6 493.2L820.9 496.7L821.2 502.8L821.5 510.9L821.7 520.5L822.0 528.0L822.3 527.1L822.5 514.1L822.8 494.4L823.1 479.6L823.3 479.8L823.6 495.9L823.9 517.9L824.2 530.9L824.4 527.1L824.7 512.8L825.0 501.0L825.2 497.2L825.5 498.4L825.8 500.0L826.0 501.6L826.3 506.0L826.6 513.1L826.9 517.8L827.1 515.0L827.4 506.4L827.7 497.7L827.9 500.2L828.2 506.8L828.5 504.9L828.8 491.5L829.0 482.2L829.3 493.9L829.6 518.8L829.8 535.3L830.1 530.4L830.4 507.0L830.6 478.6L830.9 478.1L831.2 502.7L831.5 520.7L831.7 521.0L832.0 506.2L832.3 485.2L832.5 480.4L832.8 491.9L833.1 507.9L833.3 515.8L833.6 517.4L833.9 516.0L834.1 510.7L834.4 506.7L834.7 507.1L835.0 509.9L835.2 510.3L835.5 504.9L835.8 494.0L836.0 486.8L836.3 490.2L836.6 503.7L836.8 515.4L837.1 520.6L837.4 517.7L837.7 509.5L837.9 498.6L838.2 492.4L838.5 494.0L838.7 499.6L839.0 504.2L839.3 506.4L839.5 508.0L839.8 511.4L840.1 515.3L840.4 516.3L840.6 511.9L840.9 502.0L841.2 489.6L841.4 485.3L841.7 489.2L842.0 498.6L842.2 507.6L842.5 515.6L842.8 520.8L843.1 519.4L843.3 510.3L843.6 498.2L843.9 491.9L844.1 496.1L844.4 508.2L844.7 520.7L845.0 524.5L845.2 515.8L845.5 500.1L845.8 488.4L846.0 487.5L846.3 498.5L846.6 515.6L846.8 526.1L847.1 521.2L847.4 508.4L847.6 502.9L847.9 506.5L848.2 514.1L848.5 511.9L848.7 501.0L849.0 492.7L849.3 494.4L849.5 504.5L849.8 513.0L850.1 513.9L850.3 510.5L850.6 509.8L850.9 512.4L851.2 511.1L851.4 501.0L851.7 488.5L852.0 487.0L852.2 502.8L852.5 524.3L852.8 533.0L853.0 520.6L853.3 498.1L853.6 486.3L853.9 496.0L854.1 514.8L854.4 521.4L854.7 508.4L854.9 486.2L855.2 477.6L855.5 491.3L855.8 514.5L856.0 527.3L856.3 523.6L856.6 512.0L856.8 506.2L857.1 509.9L857.4 514.5L857.6 509.6L857.9 499.8L858.2 493.2L858.4 495.3L858.7 505.0L859.0 512.5L859.3 512.1L859.5 505.7L859.8 501.6L860.1 507.0L860.3 516.9L860.6 520.4L860.9 510.2L861.2 491.3L861.4 480.7L861.7 490.7L862.0 514.3L862.2 531.0L862.5 528.0L862.8 507.8L863.0 484.2L863.3 478.3L863.6 492.7L863.8 512.6L864.1 522.4L864.4 520.2L864.7 511.9L864.9 505.2L865.2 502.7L865.5 502.2L865.7 500.1L866.0 497.1L866.3 497.1L866.5 502.6L866.8 511.8L867.1 518.7L867.4 518.0L867.6 510.3L867.9 501.4L868.2 499.4L868.4 505.2L868.7 510.2L869.0 507.5L869.2 497.7L869.5 491.6L869.8 498.3L870.1 514.5L870.3 526.9L870.6 524.4L870.9 508.1L871.1 492.2L871.4 488.3L871.7 497.4L872.0 511.6L872.2 521.2L872.5 519.1L872.8 509.1L873.0 500.7L873.3 497.1L873.6 498.1L873.8 502.5L874.1 510.1L874.4 521.9L874.6 535.6L874.9 533.5L875.2 515.8L875.5 494.8L875.7 480.0L876.0 477.1L876.3 488.0L876.5 505.7L876.8 526.9L877.1 529.1L877.3 529.9L877.6 525.5L877.9 515.5L878.2 501.2L878.4 489.1L878.7 487.9L879.0 498.2L879.2 508.5L879.5 506.4L879.8 492.3L880.0 483.2L880.3 495.4L880.6 524.3L880.9 547.8L881.1 546.0L881.4 518.5L881.7 483.1L881.9 464.3L882.2 471.5L882.5 494.5L882.8 516.1L883.0 526.4L883.3 524.1L883.6 512.4L883.8 498.1L884.1 491.9L884.4 500.9L884.6 517.2L884.9 526.7L885.2 528.8L885.5 495.6L885.7 479.8L886.0 479.5L886.3 500.7L886.5 522.4L886.8 525.3L887.1 517.6L887.3 513.3L887.6 515.3L887.9 515.1L888.1 506.5L888.4 489.2L888.7 477.1L889.0 475.4L889.2 482.4L889.5 497.5L889.8 516.8L890.0 534.6L890.3 541.9L890.6 530.7L890.8 507.2L891.1 478.0L891.4 475.3L891.7 491.8L891.9 503.3L892.2 496.9L892.5 482.7L892.7 480.0L893.0 498.4L893.3 516.3L893.5 530.0L893.8 533.9L894.1 525.2L894.4 509.1L894.6 484.1L894.9 482.5L895.2 489.1L895.4 509.9L895.7 523.5L896.0 525.2L896.2 511.3L896.5 487.5L896.8 476.2L897.1 486.2L897.3 511.4L897.6 530.7L897.9 533.1L898.1 514.0L898.4 480.9L898.7 462.1L898.9 477.6L899.2 516.4L899.5 545.4L899.8 544.8L900.0 514.4L900.3 477.9L900.6 468.5L900.8 489.9L901.1 517.9L901.4 528.1L901.7 516.1L901.9 500.3L902.2 498.2L902.5 507.7L902.7 517.0L903.0 512.0L903.3 499.8L903.5 494.1L903.8 499.0L904.1 514.3L904.3 530.6L904.6 525.6L904.9 509.1L905.2 501.0L905.4 503.6L905.7 513.2L906.0 517.7L906.2 511.1L906.5 502.0L906.8 497.5L907.0 500.5L907.3 503.5L907.6 505.8L907.9 505.6L908.1 503.4L908.4 502.0L908.7 504.2L908.9 512.9L909.2 524.3L909.5 530.3L909.8 524.4L910.0 514.3L910.3 501.9L910.6 497.7L910.8 494.2L911.1 495.7L911.4 503.0L911.6 514.1L911.9 520.2L912.2 515.7L912.5 505.7L912.7 501.4L913.0 507.0L913.3 519.0L913.5 522.7L913.8 509.6L914.1 488.6L914.3 475.8L914.6 483.1L914.9 506.4L915.1 530.6L915.4 537.7L915.7 527.0L916.0 510.4L916.2 500.4L916.5 497.9L916.8 498.4L917.0 498.8L917.3 499.3L917.6 500.1L917.8 500.1L918.1 500.3L918.4 504.7L918.7 522.1L918.9 543.3L919.2 549.6L919.5 532.6L919.7 491.0L920.0 465.0L920.3 464.7L920.5 488.7L920.8 524.5L921.1 548.7L921.4 541.8L921.6 516.1L921.9 497.6L922.2 493.6L922.4 501.1L922.7 515.9L923.0 523.4L923.2 512.1L923.5 495.9L923.8 489.1L924.1 499.7L924.3 530.7L924.6 552.8L924.9 537.7L925.1 497.2L925.4 471.3L925.7 470.9L926.0 496.0L926.2 535.3L926.5 551.7L926.8 532.6L927.0 501.9L927.3 489.0L927.6 493.8L927.8 510.1L928.1 525.2L928.4 521.6L928.6 504.2L928.9 491.3L929.2 491.5L929.5 505.9L929.7 524.4L930.0 527.4L930.3 510.9L930.5 487.2L930.8 477.3L931.1 491.1L931.3 517.4L931.6 534.1L931.9 527.7L932.2 510.4L932.4 497.6L932.7 496.7L933.0 503.0L933.2 504.4L933.5 501.7L933.8 500.1L934.0 502.8L934.3 506.2L934.6 505.6L934.9 502.5L935.1 504.6L935.4 517.3L935.7 532.9L935.9 535.9L936.2 518.5L936.5 492.5L936.8 475.6L937.0 477.0L937.3 492.9L937.6 511.6L937.8 522.5L938.1 521.7L938.4 516.6L938.6 513.8L938.9 513.7L939.2 512.9L939.4 508.6L939.7 502.3L940.0 496.2L940.3 492.8L940.5 495.2L940.8 504.3L941.1 527.1L941.3 542.7L941.6 535.4L941.9 506.2L942.2 479.5L942.4 471.3L942.7 487.7L943.0 516.4L943.2 535.6L943.5 530.5L943.8 511.8L944.0 500.7L944.3 502.9L944.6 510.7L944.8 511.5L945.1 503.9L945.4 498.4L945.7 499.5L945.9 505.0L946.2 507.2L946.5 504.5L946.7 503.3L947.0 510.1L947.3 520.8L947.5 522.4L947.8 506.2L948.1 478.1L948.4 465.1L948.6 485.0L948.9 525.7L949.2 556.1L949.4 553.8L949.7 520.3L950.0 478.7L950.2 457.4L950.5 464.9L950.8 489.0L951.1 513.3L951.3 529.1L951.6 534.9L951.9 529.5L952.1 513.7L952.4 495.0L952.7 485.8L953.0 492.3L953.2 506.6L953.5 521.6L953.8 509.8L954.0 496.1L954.3 489.8L954.6 500.9L954.8 527.0L955.1 539.3L955.4 528.6L955.6 506.4L955.9 495.8L956.2 500.6L956.5 509.6L956.7 509.8L957.0 497.1L957.3 495.5L957.5 496.7L957.8 504.1L958.1 520.1L958.3 523.0L958.6 514.6L958.9 502.7L959.2 495.9L959.4 498.5L959.7 510.0L960.0 523.1L960.2 526.8L960.5 516.8L960.8 498.3L961.0 481.8L961.3 477.8L961.6 490.3L961.9 512.5L962.1 529.7L962.4 532.3L962.7 521.1L962.9 505.8L963.2 495.5L963.5 493.5L963.8 495.4L964.0 497.3L964.3 500.7L964.6 508.3L964.8 517.2L965.1 520.6L965.4 513.8L965.6 492.2L965.9 470.0L966.2 477.6L966.5 505.6L966.7 523.9L967.0 526.0L967.3 515.3L967.5 502.0L967.8 493.3L968.1 492.9L968.3 498.1L968.6 506.7L968.9 513.1L969.1 516.9L969.4 508.4L969.7 496.8L970.0 491.6L970.2 506.9L970.5 522.7L970.8 525.4L971.0 509.3L971.3 480.7L971.6 466.8L971.8 480.7L972.1 511.4L972.4 533.2L972.7 538.2L972.9 525.3L973.2 503.6L973.5 483.3L973.7 480.5L974.0 497.5L974.3 507.8L974.5 511.7L974.8 506.6L975.1 500.6L975.4 500.0L975.6 505.4L975.9 510.4L976.2 513.4L976.4 515.6L976.7 518.2L977.0 517.4L977.2 507.2L977.5 481.7L977.8 461.6L978.1 468.6L978.3 504.7L978.6 534.0L978.9 543.5L979.1 527.4L979.4 498.9L979.7 476.3L979.9 477.1L980.2 488.5L980.5 497.1L980.8 504.6L981.0 516.3L981.3 530.6L981.6 534.2L981.8 518.6L982.1 481.7L982.4 459.3L982.7 480.0L982.9 512.8L983.2 518.9L983.5 497.5L983.7 481.3L984.0 499.2L984.3 529.8L984.5 529.7L984.8 487.6L985.1 445.0L985.3 453.8L985.6 514.5L985.9 574.3L986.2 581.6L986.4 540.8L986.7 502.4L987.0 501.9L987.2 521.6L987.5 517.8L987.8 478.1L988.0 438.9L988.3 448.3L988.6 496.5L988.9 542.8L989.1 546.8L989.4 511.2L989.7 481.3L989.9 480.3L990.2 503.7L990.5 527.5L990.8 538.0L991.0 537.9L991.3 531.5L991.6 514.9L991.8 484.6L992.1 454.8L992.4 451.2L992.6 484.0L992.9 529.7L993.2 554.3L993.5 543.6L993.7 510.3L994.0 479.2L994.3 474.9L994.5 493.2L994.8 511.9L995.1 515.8L995.3 508.2L995.6 498.9L995.9 499.8L996.1 510.1L996.4 519.7L996.7 521.9L997.0 514.7L997.2 498.9L997.5 479.5L997.8 473.6L998.0 481.6L998.3 492.6L998.6 505.9L998.8 511.9L999.1 516.6L999.4 526.0L999.7 533.5L999.9 529.6L1000.2 512.7L1000.5 484.6L1000.7 471.8L1001.0 482.6L1001.3 497.0L1001.5 493.6L1001.8 471.9L1002.1 464.4L1002.4 490.6L1002.6 523.1L1002.9 540.1L1003.2 535.9L1003.4 516.9L1003.7 496.0L1004.0 496.3L1004.2 506.8L1004.5 511.4L1004.8 505.8L1005.1 497.0L1005.3 492.0L1005.6 493.5L1005.9 498.4L1006.1 503.5L1006.4 509.2L1006.7 516.5L1007.0 523.2L1007.2 521.8L1007.5 508.5L1007.8 484.9L1008.0 471.5L1008.3 480.8L1008.6 507.8L1008.8 529.5L1009.1 537.4L1009.4 527.9L1009.6 508.4L1009.9 486.6L1010.2 476.1L1010.5 481.1L1010.7 498.4L1011.0 516.7L1011.3 525.6L1011.5 520.0L1011.8 503.9L1012.1 488.6L1012.3 489.0L1012.6 503.8L1012.9 518.5L1013.2 525.2L1013.4 518.5L1013.7 507.9L1014.0 501.8L1014.2 501.2L1014.5 501.3L1014.8 498.0L1015.0 492.5L1015.3 490.5L1015.6 497.4L1015.9 513.5L1016.1 531.7L1016.4 539.9L1016.7 529.6L1016.9 504.1L1017.2 479.8L1017.5 473.8L1017.8 491.1L1018.0 515.8L1018.3 528.1L1018.6 522.4L1018.8 504.9L1019.1 492.0L1019.4 487.1L1019.6 489.7L1019.9 497.2L1020.2 509.9L1020.4 531.7L1020.7 552.2L1021.0 556.4L1021.3 533.8L1021.5 496.1L1021.8 470.3L1022.1 465.1L1022.3 482.9L1022.6 511.2L1022.9 536.0L1023.2 534.6L1023.4 517.1L1023.7 504.0L1024.0 503.5L1024.2 508.5L1024.5 508.8L1024.8 501.9L1025.0 496.6L1025.3 500.8L1025.6 524.9L1025.8 551.1L1026.1 544.3L1026.4 506.7L1026.7 469.6L1026.9 458.9L1027.2 478.0L1027.5 505.6L1027.7 522.0L1028.0 522.4L1028.3 523.3L1028.5 531.7L1028.8 535.4L1029.1 520.6L1029.4 491.9L1029.6 471.4L1029.9 476.4L1030.2 499.1L1030.4 509.5L1030.7 503.5L1031.0 497.1L1031.2 506.4L1031.5 518.4L1031.8 524.7L1032.1 514.8L1032.3 495.1L1032.6 485.9L1032.9 499.2L1033.1 523.2L1033.4 530.4L1033.7 506.7L1034.0 474.8L1034.2 468.8L1034.5 502.6L1034.8 556.2L1035.0 574.3L1035.3 531.5L1035.6 467.8L1035.8 436.6L1036.1 460.0L1036.4 518.8L1036.6 573.0L1036.9 576.0L1037.2 540.1L1037.5 502.6L1037.7 486.6L1038.0 479.1L1038.3 473.3L1038.5 475.9L1038.8 497.4L1039.1 543.5L1039.3 575.6L1039.6 558.5L1039.9 503.5L1040.2 443.5L1040.4 445.2L1040.7 497.1L1041.0 543.4L1041.2 549.2L1041.5 516.8L1041.8 478.4L1042.0 465.8L1042.3 482.3L1042.6 509.1L1042.9 525.5L1043.1 529.2L1043.4 524.0L1043.7 515.7L1043.9 507.4L1044.2 501.4L1044.5 494.8L1044.8 489.4L1045.0 488.5L1045.3 495.4L1045.6 512.6L1045.8 541.8L1046.1 565.1L1046.4 567.9L1046.6 541.7L1046.9 496.1L1047.2 460.3L1047.5 442.4L1047.7 453.6L1048.0 488.6L1048.3 534.9L1048.5 561.7L1048.8 553.7L1049.1 521.8L1049.3 491.1L1049.6 480.0L1049.9 495.0L1050.1 526.9L1050.4 553.1L1050.7 545.2L1051.0 504.8L1051.2 469.9L1051.5 453.2L1051.8 481.4L1052.0 534.9L1052.3 550.8L1052.6 516.0L1052.8 456.1L1053.1 432.4L1053.4 471.8L1053.7 540.1L1053.9 583.2L1054.2 573.7L1054.5 524.0L1054.7 470.8L1055.0 447.9L1055.3 458.9L1055.5 484.6L1055.8 508.4L1056.1 526.2L1056.4 542.4L1056.6 552.1L1056.9 543.1L1057.2 510.1L1057.4 462.8L1057.7 434.3L1058.0 447.0L1058.2 494.4L1058.5 555.9L1058.8 586.2L1059.1 564.4L1059.3 528.4L1059.6 497.5L1059.9 485.1L1060.1 488.8L1060.4 502.7L1060.7 519.9L1060.9 525.6L1061.2 508.5L1061.5 477.2L1061.8 441.2L1062.0 446.7L1062.3 494.2L1062.6 537.5L1062.8 554.4L1063.1 542.3L1063.4 513.7L1063.7 490.8L1063.9 492.0L1064.2 501.2L1064.5 505.7L1064.7 495.8L1065.0 477.7L1065.3 465.6L1065.5 472.1L1065.8 498.5L1066.1 535.8L1066.3 563.4L1066.6 565.8L1066.9 540.2L1067.2 498.8L1067.4 462.5L1067.7 449.8L1068.0 468.0L1068.2 506.7L1068.5 540.3L1068.8 550.7L1069.0 537.4L1069.3 516.3L1069.6 503.5L1069.9 510.4L1070.1 523.4L1070.4 525.5L1070.7 513.5L1070.9 496.8L1071.2 496.8L1071.5 517.8L1071.8 543.0L1072.0 553.3L1072.3 542.3L1072.6 520.8L1072.8 477.4L1073.1 464.1L1073.4 466.1L1073.6 465.7L1073.9 471.2L1074.2 501.3L1074.5 535.2L1074.7 555.9L1075.0 541.5L1075.3 495.9L1075.5 458.9L1075.8 464.5L1076.1 503.1L1076.3 535.2L1076.6 532.2L1076.9 500.9L1077.1 476.4L1077.4 474.0L1077.7 474.6L1078.0 455.3L1078.2 423.1L1078.5 413.3L1078.8 451.6L1079.0 526.2L1079.3 581.1L1079.6 576.7L1079.8 533.2L1080.1 495.8L1080.4 490.9L1080.7 493.2L1080.9 486.7L1081.2 474.7L1081.5 479.6L1081.7 523.0L1082.0 550.2L1082.3 559.6L1082.5 546.0L1082.8 472.6L1083.1 414.9L1083.4 445.6L1083.6 541.8L1083.9 575.1L1084.2 581.7L1084.4 550.7L1084.7 469.6L1085.0 406.4L1085.2 434.6L1085.5 514.9L1085.8 555.9L1086.1 560.2L1086.3 517.3L1086.6 443.4L1086.9 398.0L1087.1 411.2L1087.4 468.2L1087.7 538.1L1088.0 574.6L1088.2 557.5L1088.5 476.8L1088.8 429.3L1089.0 418.2L1089.3 444.3L1089.6 493.4L1089.8 537.4L1090.1 542.1L1090.4 514.5L1090.6 475.7L1090.9 435.5L1091.2 415.0L1091.5 436.9L1091.7 510.7L1092.0 572.4L1092.3 600.1L1092.5 579.2L1092.8 523.7L1093.1 426.7L1093.3 417.8L1093.6 498.0L1093.9 562.8L1094.2 573.3L1094.4 557.7L1094.7 519.5L1095.0 502.2L1095.2 527.0L1095.5 545.6L1095.8 548.5L1096.0 536.7L1096.3 523.9L1096.6 512.8L1096.9 502.3L1097.1 485.8L1097.4 452.9L1097.7 442.4L1097.9 450.0L1098.2 472.1L1098.5 566.9L1098.8 601.8L1099.0 544.1L1099.3 458.7L1099.6 448.2L1099.8 456.2L1100.1 513.4L1100.4 573.3L1100.6 549.6L1100.9 480.3L1101.2 441.3L1101.4 430.7L1101.7 465.0L1102.0 524.1L1102.3 559.3L1102.5 571.6L1102.8 581.3L1103.1 577.1L1103.3 567.1L1103.6 545.0L1103.9 511.0L1104.2 503.2L1104.4 519.5L1104.7 534.0L1105.0 529.1L1105.2 514.7L1105.5 509.5L1105.8 524.7L1106.0 543.1L1106.3 547.8L1106.6 533.8L1106.8 513.2L1107.1 490.2L1107.4 457.7L1107.7 427.0L1107.9 402.4L1108.2 403.8L1108.5 440.4L1108.7 532.5L1109.0 595.4L1109.3 570.2L1109.5 501.9L1109.8 463.3L1110.1 476.7L1110.4 527.7L1110.6 552.8L1110.9 541.2L1111.2 472.4L1111.4 420.9L1111.7 459.5L1112.0 557.5L1112.2 571.0L1112.5 572.0L1112.8 559.8L1113.1 542.7L1113.3 524.5L1113.6 513.7L1113.9 492.3L1114.1 462.5L1114.4 449.7L1114.7 472.2L1115.0 536.3L1115.2 600.6L1115.5 587.5L1115.8 479.9L1116.0 415.3L1116.3 396.6L1116.6 423.0L1116.8 488.2L1117.1 554.7L1117.4 537.4L1117.6 488.0L1117.9 471.7L1118.2 501.5L1118.5 547.8L1118.7 565.5L1119.0 553.7L1119.3 505.8L1119.5 470.5L1119.8 492.9L1120.1 549.7L1120.3 571.9L1120.6 575.5L1120.9 653.4L1121.2 552.9L1121.4 535.3L1121.7 501.4L1122.0 444.8L1122.2 404.4L1122.5 405.4L1122.8 445.1L1123.0 533.5L1123.3 613.0L1123.6 606.1L1123.9 514.2L1124.1 431.6L1124.4 397.1L1124.7 402.5L1124.9 445.2L1125.2 499.4L1125.5 534.9L1125.8 550.9L1126.0 555.7L1126.3 556.9L1126.6 552.1L1126.8 523.5L1127.1 494.2L1127.4 521.9L1127.6 558.0L1127.9 573.4L1128.2 561.6L1128.5 509.2L1128.7 446.0L1129.0 429.4L1129.3 460.7L1129.5 526.8L1129.8 607.1L1130.1 626.5L1130.3 561.6L1130.6 455.9L1130.9 424.3L1131.1 413.3L1131.4 430.7L1131.7 471.7L1132.0 535.6L1132.2 560.1L1132.5 548.4L1132.8 533.6L1133.0 534.7L1133.3 544.9L1133.6 548.0L1133.8 532.4L1134.1 513.6L1134.4 521.4L1134.7 551.5L1134.9 571.2L1135.2 550.9L1135.5 477.1L1135.7 417.4L1136.0 427.0L1136.3 481.7L1136.5 582.4L1136.8 332.3L1137.1 588.1L1137.4 499.1L1137.6 448.1L1137.9 427.4L1138.2 420.1L1138.4 427.4L1138.7 456.5L1139.0 512.7L1139.2 568.6L1139.5 595.1L1139.8 584.0L1140.1 550.3L1140.3 497.8L1140.6 482.2L1140.9 519.2L1141.1 563.8L1141.4 583.3L1141.7 559.9L1141.9 502.3L1142.2 451.3L1142.5 422.6L1142.8 431.5L1143.0 462.6L1143.3 525.3L1143.6 609.4L1143.8 626.6L1144.1 567.6L1144.4 476.4L1144.7 421.9L1144.9 406.7L1145.2 451.9L1145.5 536.8L1145.7 599.7L1146.0 609.9L1146.3 572.1L1146.5 507.9L1146.8 452.0L1147.1 454.3L1147.3 502.6L1147.6 536.6L1147.9 541.8L1148.2 519.2L1148.4 489.9L1148.7 479.8L1149.0 487.9L1149.2 495.9L1149.5 480.7L1149.8 452.3L1150.0 438.1L1150.3 467.9L1150.6 543.5L1150.9 610.4L1151.1 612.6L1151.4 547.6L1151.7 667.6L1151.9 397.1L1152.2 417.3L1152.5 488.1L1152.8 541.8L1153.0 556.8L1153.3 545.5L1153.6 527.6L1153.8 512.2L1154.1 493.8L1154.4 481.0L1154.6 478.1L1154.9 479.3L1155.2 489.6L1155.5 503.7L1155.7 512.9L1156.0 520.8L1156.3 525.0L1156.5 523.5L1156.8 518.2L1157.1 513.8L1157.3 512.2L1157.6 506.5L1157.9 482.9L1158.1 449.8L1158.4 433.9L1158.7 459.7L1159.0 518.1L1159.2 564.6L1159.5 580.7L1159.8 555.4L1160.0 506.1L1160.3 454.2L1160.6 439.2L1160.8 460.7L1161.1 498.9L1161.4 526.1L1161.7 533.7L1161.9 524.0L1162.2 508.9L1162.5 502.2L1162.7 509.2L1163.0 518.0L1163.3 514.6L1163.5 493.6L1163.8 468.8L1164.1 465.9L1164.4 493.3L1164.6 540.9L1164.9 569.0L1165.2 551.5L1165.4 502.9L1165.7 458.4L1166.0 459.6L1166.2 502.6L1166.5 543.0L1166.8 547.7L1167.1 510.0L1167.3 458.4L1167.6 443.6L1167.9 482.0L1168.1 540.1L1168.4 567.3L1168.7 540.0L1169.0 484.1L1169.2 454.2L1169.5 480.5L1169.8 544.8L1170.0 586.8L1170.3 561.4L1170.6 494.0L1170.8 447.8L1171.1 441.0L1171.4 467.0L1171.6 500.1L1171.9 529.2L1172.2 548.6L1172.5 564.7L1172.7 558.3L1173.0 543.1L1173.3 506.6L1173.5 470.5L1173.8 455.5L1174.1 472.9L1174.3 509.6L1174.6 538.1L1174.9 531.1L1175.2 494.1L1175.4 458.9L1175.7 461.3L1176.0 504.0L1176.2 550.7L1176.5 569.6L1176.8 550.7L1177.0 512.6L1177.3 479.1L1177.6 467.7L1177.9 472.7L1178.1 480.6L1178.4 487.2L1178.7 498.5L1178.9 515.3L1179.2 530.2L1179.5 535.4L1179.8 526.2L1180.0 507.4L1180.3 487.1L1180.6 477.5L1180.8 483.2L1181.1 501.0L1181.4 520.5L1181.6 532.5L1181.9 530.2L1182.2 513.3L1182.4 488.8L1182.7 471.8L1183.0 473.7L1183.3 494.2L1183.5 520.8L1183.8 538.4L1184.1 538.0L1184.3 521.8L1184.6 501.0L1184.9 487.3L1185.2 485.4L1185.4 491.9L1185.7 501.2L1186.0 510.0L1186.2 517.7L1186.5 522.1L1186.8 518.0L1187.0 502.4L1187.3 479.7L1187.6 469.5L1187.8 484.6L1188.1 517.7L1188.4 546.0L1188.7 552.6L1188.9 531.9L1189.2 496.0L1189.5 465.2L1189.7 458.9L1190.0 475.1L1190.3 499.4L1190.5 517.1L1190.8 525.2L1191.1 525.9L1191.4 521.7L1191.6 513.7L1191.9 504.6L1192.2 499.3L1192.4 503.1L1192.7 515.2L1193.0 520.8L1193.2 501.0L1193.5 480.3L1193.8 458.1L1194.1 477.0L1194.3 514.8L1194.6 537.4L1194.9 537.7L1195.1 519.8L1195.4 504.2L1195.7 504.7L1196.0 514.5L1196.2 513.4L1196.5 492.6L1196.8 467.9L1197.0 465.9L1197.3 498.1L1197.6 548.4L1197.8 575.6L1198.1 554.4L1198.4 499.4L1198.6 454.9L1198.9 445.8L1199.2 472.8L1199.5 514.7L1199.7 550.6L1200.0 561.5L1200.3 546.7L1200.5 512.6L1200.8 478.1L1201.1 458.1L1201.3 467.1L1201.6 503.3L1201.9 558.7L1202.2 578.3L1202.4 548.8L1202.7 501.2L1203.0 475.3L1203.2 481.9L1203.5 502.1L1203.8 508.3L1204.0 491.6L1204.3 471.0L1204.6 472.1L1204.9 502.7L1205.1 547.3L1205.4 572.2L1205.7 558.6L1205.9 516.8L1206.2 471.1L1206.5 461.6L1206.8 491.3L1207.0 520.1L1207.3 515.2L1207.6 484.0L1207.8 459.6L1208.1 472.5L1208.4 514.4L1208.6 540.0L1208.9 539.3L1209.2 515.7L1209.5 486.4L1209.7 482.5L1210.0 505.4L1210.3 517.5L1210.5 511.4L1210.8 482.5L1211.1 458.9L1211.3 469.4L1211.6 509.1L1211.9 535.2L1212.1 543.6L1212.4 527.7L1212.7 494.5L1213.0 461.4L1213.2 464.8L1213.5 498.6L1213.8 523.9L1214.0 528.3L1214.3 510.6L1214.6 478.2L1214.8 466.5L1215.1 487.4L1215.4 518.4L1215.7 534.7L1215.9 531.3L1216.2 518.6L1216.5 497.9L1216.7 488.8L1217.0 486.1L1217.3 486.6L1217.5 491.7L1217.8 506.6L1218.1 526.8L1218.4 537.3L1218.6 526.2L1218.9 494.0L1219.2 455.4L1219.4 457.5L1219.7 494.6L1220.0 528.7L1220.2 537.3L1220.5 521.0L1220.8 497.0L1221.1 485.2L1221.3 494.4L1221.6 514.0L1221.9 529.4L1222.1 531.8L1222.4 523.4L1222.7 489.5L1222.9 463.3L1223.2 455.2L1223.5 476.1L1223.8 516.5L1224.0 554.6L1224.3 560.4L1224.6 537.0L1224.8 507.5L1225.1 497.3L1225.4 503.2L1225.7 513.7L1225.9 514.5L1226.2 503.6L1226.5 493.1L1226.7 491.3L1227.0 499.2L1227.3 508.1L1227.5 507.3L1227.8 498.7L1228.1 494.4L1228.3 505.2L1228.6 527.2L1228.9 542.0L1229.2 534.4L1229.4 506.5L1229.7 481.7L1230.0 471.0L1230.2 479.2L1230.5 499.4L1230.8 523.2L1231.0 541.8L1231.3 548.8L1231.6 538.6L1231.9 510.3L1232.1 477.5L1232.4 457.0L1232.7 461.8L1232.9 487.1L1233.2 515.8L1233.5 534.2L1233.8 541.2L1234.0 544.1L1234.3 541.6L1234.6 524.4L1234.8 493.4L1235.1 467.2L1235.4 465.1L1235.6 488.7L1235.9 519.9L1236.2 528.9L1236.5 506.2L1236.7 482.3L1237.0 485.3L1237.3 514.2L1237.5 544.4L1237.8 554.2L1238.1 544.4L1238.3 517.7L1238.6 488.3L1238.9 466.0L1239.1 460.9L1239.4 472.6L1239.7 518.9L1240.0 547.4L1240.2 539.7L1240.5 505.4L1240.8 486.0L1241.0 489.2L1241.3 506.1L1241.6 513.1L1241.8 507.1L1242.1 500.1L1242.4 509.7L1242.7 527.0L1242.9 530.6L1243.2 508.0L1243.5 470.3L1243.7 458.5L1244.0 488.7L1244.3 532.2L1244.5 550.4L1244.8 528.5L1245.1 486.3L1245.4 465.2L1245.6 487.2L1245.9 526.3L1246.2 543.3L1246.4 524.0L1246.7 485.6L1247.0 463.4L1247.2 475.5L1247.5 505.2L1247.8 523.3L1248.1 524.2L1248.3 518.3L1248.6 518.3L1248.9 518.0L1249.1 508.3L1249.4 490.5L1249.7 480.9L1250.0 492.1L1250.2 524.4L1250.5 551.6L1250.8 533.1L1251.0 498.9L1251.3 481.0L1251.6 492.1L1251.8 506.6L1252.1 505.3L1252.4 497.1L1252.6 502.6L1252.9 526.0L1253.2 542.1L1253.5 531.2L1253.7 504.4L1254.0 480.1L1254.3 487.5L1254.5 494.8L1254.8 484.1L1255.1 470.6L1255.3 483.2L1255.6 515.6L1255.9 533.7L1256.2 529.9L1256.4 511.1L1256.7 499.3L1257.0 502.3L1257.2 507.7L1257.5 503.6L1257.8 492.7L1258.0 488.9L1258.3 502.0L1258.6 523.2L1258.9 532.9L1259.1 519.1L1259.4 490.7L1259.7 475.0L1259.9 491.5L1260.2 518.9L1260.5 532.0L1260.8 523.5L1261.0 497.2L1261.3 472.4L1261.6 476.1L1261.8 498.2L1262.1 509.4L1262.4 501.1L1262.6 487.2L1262.9 496.4L1263.2 519.9L1263.4 536.6L1263.7 534.1L1264.0 512.7L1264.3 485.9L1264.5 478.7L1264.8 492.4L1265.1 506.5L1265.3 503.6L1265.6 487.9L1265.9 479.7L1266.2 494.5L1266.4 521.5L1266.7 541.4L1267.0 541.6L1267.2 521.2L1267.5 491.3L1267.8 471.2L1268.0 474.7L1268.3 494.1L1268.6 510.8L1268.8 513.9L1269.1 507.9L1269.4 503.0L1269.7 509.2L1269.9 520.8L1270.2 526.4L1270.5 517.2L1270.7 494.3L1271.0 472.3L1271.3 470.7L1271.5 490.4L1271.8 518.2L1272.1 536.7L1272.4 536.5L1272.6 522.3L1272.9 504.4L1273.2 491.9L1273.4 488.0L1273.7 493.8L1274.0 506.7L1274.2 520.1L1274.5 524.8L1274.8 514.5L1275.1 500.8L1275.3 485.5L1275.6 482.6L1275.9 493.7L1276.1 511.3L1276.4 524.1L1276.7 527.7L1277.0 518.2L1277.2 497.0L1277.5 475.0L1277.8 474.0L1278.0 497.1L1278.3 522.1L1278.6 532.4L1278.8 522.1L1279.1 497.9L1279.4 477.2L1279.6 481.9L1279.9 506.0L1280.2 522.3L1280.5 524.3L1280.7 511.7L1281.0 491.5L1281.3 481.2L1281.5 488.7L1281.8 506.7L1282.1 518.4L1282.3 521.5L1282.6 520.0L1282.9 508.5L1283.2 502.1L1283.4 500.4L1283.7 500.9L1284.0 501.3L1284.2 501.1L1284.5 501.5L1284.8 504.1L1285.0 509.7L1285.3 517.3L1285.6 522.8L1285.9 520.6L1286.1 508.2L1286.4 491.7L1286.7 481.2L1286.9 486.0L1287.2 505.2L1287.5 526.9L1287.8 534.3L1288.0 522.2L1288.3 501.0L1288.6 487.2L1288.8 490.0L1289.1 504.5L1289.4 517.5L1289.6 519.3L1289.9 510.5L1290.2 499.4L1290.5 493.8L1290.7 493.3L1291.0 501.8L1291.3 512.3L1291.5 518.8L1291.8 529.6L1292.1 522.5L1292.3 502.8L1292.6 491.1L1292.9 484.7L1293.1 495.9L1293.4 507.8L1293.7 515.2L1294.0 518.7L1294.2 519.0L1294.5 512.7L1294.8 499.8L1295.0 487.6L1295.3 486.1L1295.6 500.9L1295.8 527.5L1296.1 543.2L1296.4 533.1L1296.7 504.8L1296.9 483.9L1297.2 477.5" stroke="#000" stroke-width="1.05" fill="none" stroke-linejoin="round"/>
<path d="M325.2 506.9L325.7 506.5L326.3 506.2L326.8 506.3L327.4 506.7L327.9 507.1L328.4 506.9L329.0 506.1L329.5 505.2L330.1 504.7L330.6 505.2L331.1 506.5L331.7 507.9L332.2 508.7L332.8 508.2L333.3 506.6L333.8 504.8L334.4 503.7L334.9 504.0L335.5 505.5L336.0 507.5L336.5 508.9L337.1 508.9L337.6 507.7L338.2 505.8L338.7 504.4L339.2 504.0L339.8 504.8L340.3 506.2L340.9 507.5L341.4 508.1L341.9 507.8L342.5 506.9L343.0 506.0L343.6 505.4L344.1 505.4L344.6 505.7L345.2 506.1L345.7 506.5L346.3 506.7L346.8 506.9L347.3 507.0L347.9 506.9L348.4 506.6L349.0 506.1L349.5 505.6L350.0 505.5L350.6 505.7L351.1 506.4L351.7 507.0L352.2 507.4L352.7 507.1L353.3 506.4L353.8 505.7L354.4 505.3L354.9 505.6L355.4 506.4L356.0 507.1L356.5 507.4L357.1 507.0L357.6 506.1L358.1 505.3L358.7 505.1L359.2 505.7L359.8 506.8L360.3 507.8L360.8 507.9L361.4 507.1L361.9 505.7L362.5 504.6L363.0 504.4L363.5 505.3L364.1 506.9L364.6 508.3L365.2 508.7L365.7 507.8L366.2 506.0L366.8 504.4L367.3 503.8L367.9 504.5L368.4 506.3L368.9 508.1L369.5 508.9L370.0 508.3L370.6 506.7L371.1 504.9L371.6 504.1L372.2 504.5L372.7 505.9L373.3 507.4L373.8 508.2L374.3 507.8L374.9 506.6L375.4 505.4L376.0 505.0L376.5 505.5L377.0 506.6L377.6 507.3L378.1 507.3L378.7 506.5L379.2 505.5L379.7 505.0L380.3 505.6L380.8 506.8L381.4 507.9L381.9 508.1L382.4 507.2L383.0 505.5L383.5 504.2L384.1 504.1L384.6 505.3L385.1 507.3L385.7 508.8L386.2 509.0L386.8 507.6L387.3 505.5L387.8 503.8L388.4 503.6L388.9 504.9L389.5 507.0L390.0 508.7L390.5 509.0L391.1 507.8L391.6 505.9L392.2 504.3L392.7 504.0L393.2 504.9L393.8 506.6L394.3 508.0L394.9 508.3L395.4 507.6L395.9 506.3L396.5 505.1L397.0 504.8L397.6 505.3L398.1 506.3L398.6 507.2L399.2 507.6L399.7 507.3L400.3 506.6L400.8 505.8L401.3 505.3L401.9 505.3L402.4 505.8L403.0 506.5L403.5 507.1L404.0 507.5L404.6 507.3L405.1 506.7L405.7 505.9L406.2 505.2L406.7 504.9L407.3 505.4L407.8 506.4L408.4 507.5L408.9 508.2L409.4 507.9L410.0 506.8L410.5 505.4L411.1 504.3L411.6 504.2L412.1 505.3L412.7 507.0L413.2 508.4L413.8 508.8L414.3 507.9L414.8 506.3L415.4 504.6L415.9 503.9L416.5 504.5L417.0 505.9L417.5 507.5L418.1 508.5L418.6 508.2L419.2 507.1L419.7 505.7L420.2 504.9L420.8 504.8L421.3 505.5L421.9 506.5L422.4 507.1L422.9 507.2L423.5 506.9L424.0 506.5L424.6 506.3L425.1 506.4L425.6 506.5L426.2 506.4L426.7 505.9L427.3 505.4L427.8 505.3L428.3 505.9L428.9 506.9L429.4 507.9L430.0 508.3L430.5 507.6L431.0 506.0L431.6 504.4L432.1 503.7L432.7 504.3L433.2 506.1L433.7 508.2L434.3 509.5L434.8 509.1L435.4 507.3L435.9 504.9L436.4 503.3L437.0 503.2L437.5 504.8L438.1 507.1L438.6 509.0L439.1 509.5L439.7 508.4L440.2 506.2L440.8 504.3L441.3 503.6L441.8 504.3L442.4 506.0L442.9 507.7L443.5 508.5L444.0 508.2L444.5 506.9L445.1 505.6L445.6 504.9L446.2 505.1L446.7 505.9L447.2 506.8L447.8 507.2L448.3 507.0L448.9 506.5L449.4 505.9L449.9 505.8L450.5 506.2L451.0 506.7L451.6 507.0L452.1 506.8L452.6 506.2L453.2 505.5L453.7 505.3L454.3 505.8L454.8 506.6L455.3 507.5L455.9 507.7L456.4 507.2L457.0 506.2L457.5 505.1L458.0 504.7L458.6 505.2L459.1 506.3L459.7 507.5L460.2 508.0L460.7 507.7L461.3 506.6L461.8 505.4L462.4 504.8L462.9 505.1L463.4 506.0L464.0 507.1L464.5 507.6L465.1 507.4L465.6 506.6L466.1 505.8L466.7 505.3L467.2 505.6L467.8 506.3L468.3 506.9L468.8 507.2L469.4 506.8L469.9 506.2L470.5 505.7L471.0 505.7L471.5 506.2L472.1 506.8L472.6 507.1L473.2 506.9L473.7 506.3L474.2 505.7L474.8 505.5L475.3 505.9L475.9 506.5L476.4 507.0L476.9 507.1L477.5 506.7L478.0 506.1L478.6 505.7L479.1 505.8L479.6 506.2L480.2 506.7L480.7 506.8L481.3 506.6L481.8 506.1L482.3 505.9L482.9 506.0L483.4 506.5L484.0 506.9L484.5 507.0L485.0 506.6L485.6 505.9L486.1 505.4L486.7 505.4L487.2 506.1L487.7 507.0L488.3 507.6L488.8 507.5L489.4 506.7L489.9 505.6L490.4 504.9L491.0 505.0L491.5 505.9L492.1 507.1L492.6 507.9L493.1 507.8L493.7 507.0L494.2 505.8L494.8 505.0L495.3 504.9L495.8 505.6L496.4 506.6L496.9 507.5L497.5 507.7L498.0 507.3L498.5 506.4L499.1 505.6L499.6 505.1L500.2 505.2L500.7 505.8L501.2 506.6L501.8 507.3L502.3 507.6L502.9 507.3L503.4 506.6L503.9 505.7L504.5 505.1L505.0 505.0L505.6 505.7L506.1 506.7L506.6 507.7L507.2 508.0L507.7 507.5L508.3 506.3L508.8 505.1L509.3 504.5L509.9 504.9L510.4 506.1L511.0 507.5L511.5 508.3L512.0 508.1L512.6 506.9L513.1 505.4L513.7 504.5L514.2 504.5L514.7 505.6L515.3 507.0L515.8 508.0L516.4 508.1L516.9 507.2L517.4 505.9L518.0 504.9L518.5 504.7L519.1 505.4L519.6 506.5L520.1 507.4L520.7 507.7L521.2 507.3L521.8 506.5L522.3 505.7L522.8 505.2L523.4 505.4L523.9 505.9L524.5 506.6L525.0 507.2L525.5 507.4L526.1 507.1L526.6 506.5L527.2 505.8L527.7 505.3L528.2 505.3L528.8 505.7L529.3 506.6L529.9 507.4L530.4 507.8L530.9 507.4L531.5 506.4L532.0 505.3L532.6 504.6L533.1 504.9L533.6 505.9L534.2 507.3L534.7 508.2L535.3 508.2L535.8 507.1L536.3 505.6L536.9 504.5L537.4 504.4L538.0 505.3L538.5 506.8L539.0 508.0L539.6 508.3L540.1 507.6L540.7 506.3L541.2 505.1L541.7 504.7L542.3 505.1L542.8 506.1L543.4 507.0L543.9 507.5L544.4 507.4L545.0 506.9L545.5 506.3L546.1 505.9L546.6 505.8L547.1 505.7L547.7 505.8L548.2 506.0L548.8 506.4L549.3 506.9L549.8 507.3L550.4 507.3L550.9 506.9L551.5 506.1L552.0 505.3L552.5 504.9L553.1 505.2L553.6 506.2L554.2 507.3L554.7 507.9L555.2 507.8L555.8 506.9L556.3 505.8L556.9 504.9L557.4 504.8L557.9 505.4L558.5 506.4L559.0 507.3L559.6 507.7L560.1 507.4L560.6 506.8L561.2 506.0L561.7 505.5L562.3 505.3L562.8 505.5L563.3 506.0L563.9 506.6L564.4 507.1L565.0 507.4L565.5 507.2L566.0 506.7L566.6 506.0L567.1 505.3L567.7 505.2L568.2 505.5L568.7 506.3L569.3 507.1L569.8 507.6L570.4 507.4L570.9 506.7L571.4 505.9L572.0 505.3L572.5 505.4L573.1 505.8L573.6 506.5L574.1 507.0L574.7 507.1L575.2 506.8L575.8 506.4L576.3 506.2L576.8 506.1L577.4 506.1L577.9 506.2L578.5 506.1L579.0 506.1L579.5 506.2L580.1 506.5L580.6 506.9L581.2 507.0L581.7 506.9L582.2 506.4L582.8 505.7L583.3 505.4L583.9 505.5L584.4 506.1L584.9 506.9L585.5 507.4L586.0 507.4L586.6 506.7L587.1 505.9L587.6 505.3L588.2 505.4L588.7 505.9L589.3 506.6L589.8 507.1L590.3 507.2L590.9 506.8L591.4 506.2L592.0 505.8L592.5 505.8L593.0 506.0L593.6 506.4L594.1 506.6L594.7 506.6L595.2 506.5L595.7 506.3L596.3 506.3L596.8 506.3L597.4 506.4L597.9 506.4L598.4 506.3L599.0 506.2L599.5 506.1L600.1 506.2L600.6 506.4L601.1 506.6L601.7 506.7L602.2 506.7L602.8 506.4L603.3 506.1L603.8 505.9L604.4 505.9L604.9 506.2L605.5 506.6L606.0 506.9L606.5 506.9L607.1 506.6L607.6 506.1L608.2 505.8L608.7 505.7L609.2 506.0L609.8 506.5L610.3 506.9L610.9 507.1L611.4 506.9L611.9 506.4L612.5 505.8L613.0 505.4L613.6 505.6L614.1 506.1L614.6 506.9L615.2 507.4L615.7 507.4L616.3 506.8L616.8 505.9L617.3 505.2L617.9 505.1L618.4 505.6L619.0 506.6L619.5 507.5L620.0 507.8L620.6 507.4L621.1 506.4L621.7 505.3L622.2 504.8L622.7 505.1L623.3 506.0L623.8 507.2L624.4 507.9L624.9 507.7L625.4 506.9L626.0 505.8L626.5 505.1L627.1 505.0L627.6 505.7L628.1 506.6L628.7 507.3L629.2 507.4L629.8 507.0L630.3 506.4L630.8 505.9L631.4 505.7L631.9 505.9L632.5 506.3L633.0 506.4L633.5 506.5L634.1 506.4L634.6 506.4L635.2 506.5L635.7 506.7L636.2 506.8L636.8 506.6L637.3 506.1L637.9 505.6L638.4 505.5L638.9 505.9L639.5 506.6L640.0 507.2L640.6 507.4L641.1 507.0L641.6 506.3L642.2 505.6L642.7 505.3L643.3 505.7L643.8 506.4L644.3 507.0L644.9 507.1L645.4 506.8L646.0 506.3L646.5 505.9L647.0 505.9L647.6 506.3L648.1 506.7L648.7 506.7L649.2 506.4L649.7 505.9L650.3 505.6L650.8 505.9L651.4 506.5L651.9 507.3L652.4 507.6L653.0 507.1L653.5 506.1L654.1 505.1L654.6 504.7L655.1 505.1L655.7 506.4L656.2 507.6L656.8 508.3L657.3 508.0L657.8 506.8L658.4 505.3L658.9 504.4L659.5 504.5L660.0 505.5L660.5 506.9L661.1 508.0L661.6 508.3L662.2 507.7L662.7 506.5L663.2 505.3L663.8 504.6L664.3 504.8L664.9 505.6L665.4 506.8L665.9 507.7L666.5 508.0L667.0 507.6L667.6 506.6L668.1 505.6L668.6 505.0L669.2 504.9L669.7 505.5L670.3 506.4L670.8 507.3L671.3 507.8L671.9 507.6L672.4 506.9L673.0 505.9L673.5 505.1L674.0 504.9L674.6 505.3L675.1 506.2L675.7 507.2L676.2 507.7L676.7 507.7L677.3 507.1L677.8 506.1L678.4 505.2L678.9 504.8L679.4 505.1L680.0 506.1L680.5 507.2L681.1 508.0L681.6 508.0L682.1 507.2L682.7 505.9L683.2 504.8L683.8 504.4L684.3 505.0L684.8 506.4L685.4 507.9L685.9 508.6L686.5 508.1L687.0 506.6L687.5 504.9L688.1 503.9L688.6 504.2L689.2 505.7L689.7 507.6L690.2 508.9L690.8 508.8L691.3 507.3L691.9 505.2L692.4 503.7L692.9 503.7L693.5 505.1L694.0 507.3L694.6 509.0L695.1 509.2L695.6 507.8L696.2 505.6L696.7 503.8L697.3 503.5L697.8 504.8L698.3 506.9L698.9 508.7L699.4 509.1L700.0 508.0L700.5 506.0L701.0 504.3L701.6 503.7L702.1 504.6L702.7 506.4L703.2 508.0L703.7 508.7L704.3 508.0L704.8 506.6L705.4 505.1L705.9 504.4L706.4 504.7L707.0 505.8L707.5 507.0L708.1 507.8L708.6 507.8L709.1 507.1L709.7 506.2L710.2 505.5L710.8 505.2L711.3 505.4L711.8 506.0L712.4 506.7L712.9 507.2L713.5 507.3L714.0 507.1L714.5 506.6L715.1 506.0L715.6 505.5L716.2 505.4L716.7 505.6L717.2 506.2L717.8 506.9L718.3 507.4L718.9 507.4L719.4 506.9L719.9 506.2L720.5 505.5L721.0 505.2L721.6 505.4L722.1 506.1L722.6 506.8L723.2 507.4L723.7 507.5L724.3 507.1L724.8 506.3L725.3 505.6L725.9 505.2L726.4 505.3L727.0 505.9L727.5 506.7L728.0 507.4L728.6 507.6L729.1 507.2L729.7 506.4L730.2 505.6L730.7 505.1L731.3 505.2L731.8 505.8L732.4 506.7L732.9 507.4L733.4 507.6L734.0 507.2L734.5 506.4L735.1 505.6L735.6 505.3L736.1 505.4L736.7 506.0L737.2 506.7L737.8 507.2L738.3 507.3L738.8 506.9L739.4 506.4L739.9 505.9L740.5 505.6L741.0 505.7L741.5 506.1L742.1 506.5L742.6 506.9L743.2 507.0L743.7 506.8L744.2 506.5L744.8 506.1L745.3 505.8L745.9 505.8L746.4 506.0L746.9 506.4L747.5 506.7L748.0 506.8L748.6 506.8L749.1 506.5L749.6 506.2L750.2 506.0L750.7 505.9L751.3 506.1L751.8 506.3L752.3 506.5L752.9 506.7L753.4 506.7L754.0 506.5L754.5 506.4L755.0 506.2L755.6 506.1L756.1 506.0L756.7 506.1L757.2 506.3L757.7 506.5L758.3 506.8L758.8 506.8L759.4 506.6L759.9 506.3L760.4 505.9L761.0 505.7L761.5 505.8L762.1 506.3L762.6 506.8L763.1 507.1L763.7 507.1L764.2 506.6L764.8 506.0L765.3 505.5L765.8 505.5L766.4 505.9L766.9 506.5L767.5 507.1L768.0 507.3L768.5 507.0L769.1 506.3L769.6 505.7L770.2 505.4L770.7 505.6L771.2 506.2L771.8 506.8L772.3 507.1L772.9 507.1L773.4 506.7L773.9 506.2L774.5 505.8L775.0 505.8L775.6 505.9L776.1 506.2L776.6 506.5L777.2 506.7L777.7 506.7L778.3 506.7L778.8 506.5L779.3 506.4L779.9 506.1L780.4 505.9L781.0 505.8L781.5 505.9L782.0 506.3L782.6 506.8L783.1 507.2L783.7 507.2L784.2 506.7L784.7 506.0L785.3 505.4L785.8 505.2L786.4 505.7L786.9 506.5L787.4 507.4L788.0 507.7L788.5 507.3L789.1 506.4L789.6 505.3L790.1 504.8L790.7 505.2L791.2 506.2L791.8 507.3L792.3 507.9L792.8 507.6L793.4 506.6L793.9 505.5L794.5 504.9L795.0 505.1L795.5 506.1L796.1 507.1L796.6 507.7L797.2 507.5L797.7 506.6L798.2 505.6L798.8 505.0L799.3 505.2L799.9 506.1L800.4 507.0L800.9 507.6L801.5 507.4L802.0 506.6L802.6 505.8L803.1 505.2L803.6 505.4L804.2 506.0L804.7 506.8L805.3 507.3L805.8 507.3L806.3 506.8L806.9 506.1L807.4 505.6L808.0 505.4L808.5 505.8L809.0 506.4L809.6 506.9L810.1 507.2L810.7 507.0L811.2 506.5L811.7 506.0L812.3 505.6L812.8 505.6L813.4 506.0L813.9 506.6L814.4 507.0L815.0 507.1L815.5 506.8L816.1 506.2L816.6 505.7L817.1 505.6L817.7 506.0L818.2 506.5L818.8 507.0L819.3 507.0L819.8 506.6L820.4 506.0L820.9 505.6L821.5 505.7L822.0 506.2L822.5 506.9L823.1 507.3L823.6 507.0L824.2 506.3L824.7 505.5L825.2 505.2L825.8 505.6L826.3 506.5L826.9 507.5L827.4 507.7L827.9 507.2L828.5 506.0L829.0 505.0L829.6 504.8L830.1 505.5L830.6 506.7L831.2 507.8L831.7 507.9L832.3 507.1L832.8 505.9L833.3 504.9L833.9 504.9L834.4 505.7L835.0 506.9L835.5 507.7L836.0 507.6L836.6 506.7L837.1 505.7L837.7 505.1L838.2 505.4L838.7 506.3L839.3 507.2L839.8 507.5L840.4 506.9L840.9 506.0L841.4 505.3L842.0 505.4L842.5 506.2L843.1 507.1L843.6 507.6L844.1 507.2L844.7 506.2L845.2 505.3L845.8 505.0L846.3 505.5L846.8 506.7L847.4 507.6L847.9 507.8L848.5 507.1L849.0 506.0L849.5 505.0L850.1 504.9L850.6 505.6L851.2 506.7L851.7 507.5L852.2 507.6L852.8 507.0L853.3 506.1L853.9 505.4L854.4 505.4L854.9 505.8L855.5 506.5L856.0 506.9L856.6 507.0L857.1 506.7L857.6 506.4L858.2 506.2L858.7 506.1L859.3 506.1L859.8 506.1L860.3 506.1L860.9 506.2L861.4 506.4L862.0 506.7L862.5 506.9L863.0 506.9L863.6 506.5L864.1 506.0L864.7 505.6L865.2 505.6L865.7 506.1L866.3 506.7L866.8 507.2L867.4 507.2L867.9 506.7L868.4 506.0L869.0 505.5L869.5 505.5L870.1 506.0L870.6 506.7L871.1 507.1L871.7 507.1L872.2 506.7L872.8 506.1L873.3 505.7L873.8 505.7L874.4 506.1L874.9 506.5L875.5 506.8L876.0 506.8L876.5 506.6L877.1 506.3L877.6 506.1L878.2 506.1L878.7 506.1L879.2 506.3L879.8 506.4L880.3 506.5L880.9 506.6L881.4 506.6L881.9 506.6L882.5 506.4L883.0 506.1L883.6 505.8L884.1 505.8L884.6 506.1L885.2 506.6L885.7 507.1L886.3 507.1L886.8 506.7L887.3 506.1L887.9 505.5L888.4 505.4L889.0 505.8L889.5 506.6L890.0 507.3L890.6 507.5L891.1 507.0L891.7 506.2L892.2 505.4L892.7 505.2L893.3 505.6L893.8 506.4L894.4 507.1L894.9 507.4L895.4 507.1L896.0 506.4L896.5 505.8L897.1 505.5L897.6 505.7L898.1 506.2L898.7 506.7L899.2 506.9L899.8 506.8L900.3 506.5L900.8 506.2L901.4 506.0L901.9 506.1L902.5 506.3L903.0 506.4L903.5 506.4L904.1 506.3L904.6 506.3L905.2 506.3L905.7 506.5L906.2 506.6L906.8 506.6L907.3 506.4L907.9 506.1L908.4 505.8L908.9 505.8L909.5 506.1L910.0 506.6L910.6 507.0L911.1 507.1L911.6 506.8L912.2 506.2L912.7 505.6L913.3 505.3L913.8 505.6L914.3 506.2L914.9 507.0L915.4 507.5L916.0 507.4L916.5 506.7L917.0 505.8L917.6 505.1L918.1 505.1L918.7 505.8L919.2 506.8L919.7 507.6L920.3 507.7L920.8 507.1L921.4 506.1L921.9 505.2L922.4 505.0L923.0 505.5L923.5 506.4L924.1 507.2L924.6 507.5L925.1 507.2L925.7 506.4L926.2 505.8L926.8 505.5L927.3 505.7L927.8 506.2L928.4 506.6L928.9 506.8L929.5 506.7L930.0 506.6L930.5 506.5L931.1 506.4L931.6 506.3L932.2 506.2L932.7 505.9L933.2 505.8L933.8 505.9L934.3 506.4L934.9 507.1L935.4 507.5L935.9 507.2L936.5 506.4L937.0 505.4L937.6 504.8L938.1 505.0L938.6 506.1L939.2 507.5L939.7 508.3L940.3 508.2L940.8 506.9L941.3 505.2L941.9 504.1L942.4 504.1L943.0 505.5L943.5 507.4L944.0 508.8L944.6 508.9L945.1 507.6L945.7 505.6L946.2 504.0L946.7 503.6L947.3 504.8L947.8 506.8L948.4 508.5L948.9 509.1L949.4 508.2L950.0 506.4L950.5 504.6L951.1 503.8L951.6 504.3L952.1 505.8L952.7 507.5L953.2 508.5L953.8 508.4L954.3 507.4L954.8 505.9L955.4 504.7L955.9 504.4L956.5 505.0L957.0 506.2L957.5 507.4L958.1 508.0L958.6 507.8L959.2 507.0L959.7 505.9L960.2 505.1L960.8 504.9L961.3 505.4L961.9 506.3L962.4 507.2L962.9 507.6L963.5 507.5L964.0 506.8L964.6 505.9L965.1 505.3L965.6 505.3L966.2 505.8L966.7 506.6L967.3 507.2L967.8 507.3L968.3 506.8L968.9 506.1L969.4 505.6L970.0 505.6L970.5 506.0L971.0 506.7L971.6 507.1L972.1 507.0L972.7 506.5L973.2 505.9L973.7 505.6L974.3 505.7L974.8 506.2L975.4 506.9L975.9 507.2L976.4 507.0L977.0 506.5L977.5 505.9L978.1 505.5L978.6 505.6L979.1 506.0L979.7 506.6L980.2 507.0L980.8 507.1L981.3 506.8L981.8 506.5L982.4 506.1L982.9 505.8L983.5 505.8L984.0 505.8L984.5 506.1L985.1 506.5L985.6 506.9L986.2 507.2L986.7 507.1L987.2 506.7L987.8 506.0L988.3 505.4L988.9 505.2L989.4 505.5L989.9 506.3L990.5 507.2L991.0 507.8L991.6 507.7L992.1 506.9L992.6 505.8L993.2 505.0L993.7 504.8L994.3 505.4L994.8 506.4L995.3 507.4L995.9 507.8L996.4 507.5L997.0 506.7L997.5 505.8L998.0 505.2L998.6 505.2L999.1 505.7L999.7 506.4L1000.2 505.8L1000.7 506.0L1001.3 506.2L1001.8 506.4L1002.4 506.7L1002.9 506.9L1003.4 507.1L1004.0 507.3L1004.5 507.5L1005.1 507.6L1005.6 507.8L1006.1 507.9L1006.7 508.0L1007.2 508.0L1007.8 508.1L1008.3 508.0L1008.8 508.0L1009.4 507.9L1009.9 507.7L1010.5 507.5L1011.0 507.2L1011.5 506.9L1012.1 506.6L1012.6 506.2L1013.2 505.9L1013.7 505.5L1014.2 505.2L1014.8 504.8L1015.3 504.5L1015.9 504.1L1016.4 503.8L1016.9 503.5L1017.5 503.2L1018.0 503.0L1018.6 502.8L1019.1 502.6L1019.6 502.6L1020.2 502.6L1020.7 502.9L1021.3 503.5L1021.8 504.8L1022.3 507.0L1022.9 510.5L1023.4 514.6L1024.0 516.7L1024.5 516.5L1025.0 514.9L1025.6 512.3L1026.1 509.1L1026.7 505.8L1027.2 502.5L1027.7 499.7L1028.3 497.6L1028.8 496.9L1029.4 497.8L1029.9 500.0L1030.4 503.1L1031.0 506.6L1031.5 509.7L1032.1 511.8L1032.6 512.4L1033.1 511.3L1033.7 509.3L1034.2 506.6L1034.8 504.0L1035.3 501.7L1035.8 500.6L1036.4 501.8L1036.9 506.3L1037.5 512.6L1038.0 517.2L1038.5 518.1L1039.1 515.3L1039.6 510.5L1040.2 504.9L1040.7 499.4L1041.2 494.6L1041.8 491.9L1042.3 494.0L1042.9 502.9L1043.4 514.2L1043.9 520.0L1044.5 519.3L1045.0 515.1L1045.6 509.5L1046.1 503.5L1046.6 498.2L1047.2 494.6L1047.7 494.5L1048.3 498.1L1048.8 504.2L1049.3 510.7L1049.9 515.0L1050.4 514.5L1051.0 509.3L1051.5 504.4L1052.0 502.3L1052.6 502.1L1053.1 502.8L1053.7 503.9L1054.2 505.1L1054.7 506.4L1055.3 507.6L1055.8 508.6L1056.4 509.4L1056.9 509.9L1057.4 510.1L1058.0 509.9L1058.5 509.3L1059.1 508.6L1059.6 507.8L1060.1 506.8L1060.7 505.9L1061.2 504.9L1061.8 504.0L1062.3 503.3L1062.8 502.6L1063.4 502.2L1063.9 501.9L1064.5 502.0L1065.0 502.4L1065.5 503.3L1066.1 504.7L1066.6 506.4L1067.2 508.3L1067.7 510.3L1068.2 512.4L1068.8 514.4L1069.3 516.4L1069.9 518.1L1070.4 519.4L1070.9 520.4L1071.5 520.8L1072.0 520.5L1072.6 519.2L1073.1 517.0L1073.6 513.9L1074.2 510.1L1074.7 505.9L1075.3 501.4L1075.8 496.7L1076.3 492.3L1076.9 488.2L1077.4 484.7L1078.0 482.3L1078.5 481.4L1079.0 482.8L1079.6 487.3L1080.1 495.1L1080.7 505.6L1081.2 517.0L1081.7 527.3L1082.3 534.4L1082.8 537.9L1083.4 537.4L1083.9 533.4L1084.4 527.1L1085.0 519.4L1085.5 510.9L1086.1 502.1L1086.6 493.4L1087.1 485.4L1087.7 478.5L1088.2 473.4L1088.8 470.6L1089.3 471.4L1089.8 476.1L1090.4 484.3L1090.9 494.9L1091.5 507.0L1092.0 519.4L1092.5 530.9L1093.1 540.1L1093.6 546.0L1094.2 547.4L1094.7 543.9L1095.2 536.5L1095.8 526.2L1096.3 514.0L1096.9 501.2L1097.4 488.5L1097.9 477.1L1098.5 468.2L1099.0 463.1L1099.6 463.5L1100.1 470.4L1100.6 482.5L1101.2 498.4L1101.7 515.8L1102.3 532.6L1102.8 546.4L1103.3 554.7L1103.9 555.8L1104.4 549.2L1105.0 536.8L1105.5 520.8L1106.0 503.2L1106.6 485.9L1107.1 471.1L1107.7 460.9L1108.2 458.2L1108.7 464.2L1109.3 477.6L1109.8 495.8L1110.4 515.7L1110.9 534.4L1111.4 548.5L1112.0 555.3L1112.5 552.7L1113.1 541.9L1113.6 525.9L1114.1 507.2L1114.7 488.4L1115.2 471.8L1115.8 460.5L1116.3 457.6L1116.8 465.1L1117.4 481.0L1117.9 502.0L1118.5 524.4L1119.0 544.0L1119.5 556.8L1120.1 558.6L1120.6 548.4L1121.2 529.7L1121.7 506.6L1122.2 483.5L1122.8 464.7L1123.3 454.4L1123.9 456.0L1124.4 467.8L1124.9 486.2L1125.5 507.4L1126.0 528.0L1126.6 544.5L1127.1 553.0L1127.6 549.7L1128.2 536.0L1128.7 515.8L1129.3 493.6L1129.8 474.3L1130.3 462.7L1130.9 462.6L1131.4 473.0L1132.0 490.0L1132.5 509.9L1133.0 529.3L1133.6 544.4L1134.1 550.5L1134.7 543.8L1135.2 526.5L1135.7 503.6L1136.3 482.0L1136.8 468.3L1137.4 467.2L1137.9 476.8L1138.4 492.6L1139.0 510.7L1139.5 527.5L1140.1 539.5L1140.6 542.0L1141.1 534.4L1141.7 519.8L1142.2 502.6L1142.8 487.4L1143.3 479.0L1143.8 480.9L1144.4 490.8L1144.9 504.7L1145.5 518.5L1146.0 528.0L1146.5 529.6L1147.1 524.1L1147.6 514.6L1148.2 503.7L1148.7 494.3L1149.2 489.1L1149.8 489.7L1150.3 494.6L1150.9 501.7L1151.4 508.9L1151.9 514.1L1152.5 515.5L1153.0 513.8L1153.6 510.5L1154.1 506.6L1154.6 503.4L1155.2 502.1L1155.7 502.6L1156.3 504.4L1156.8 506.6L1157.3 508.7L1157.9 509.9L1158.4 510.1L1159.0 509.7L1159.5 509.1L1160.0 508.2L1160.6 507.3L1161.1 506.2L1161.7 505.2L1162.2 508.8L1162.7 507.2L1163.3 505.1L1163.8 503.6L1164.4 503.6L1164.9 505.2L1165.4 507.5L1166.0 509.2L1166.5 509.4L1167.1 507.8L1167.6 505.5L1168.1 503.6L1168.7 503.2L1169.2 504.6L1169.8 507.0L1170.3 508.9L1170.8 509.4L1171.4 508.2L1171.9 506.0L1172.5 504.2L1173.0 503.7L1173.5 504.7L1174.1 506.5L1174.6 508.1L1175.2 508.5L1175.7 507.6L1176.2 506.1L1176.8 505.0L1177.3 504.9L1177.9 505.7L1178.4 506.9L1178.9 507.5L1179.5 507.1L1180.0 506.2L1180.6 505.3L1181.1 505.3L1181.6 506.2L1182.2 507.4L1182.7 508.1L1183.3 507.6L1183.8 506.2L1184.3 504.6L1184.9 503.9L1185.4 504.7L1186.0 506.6L1186.5 508.6L1187.0 509.4L1187.6 508.5L1188.1 506.2L1188.7 503.9L1189.2 502.8L1189.7 503.7L1190.3 506.1L1190.8 508.7L1191.4 510.0L1191.9 509.3L1192.4 507.0L1193.0 504.4L1193.5 502.9L1194.1 503.3L1194.6 505.3L1195.1 507.7L1195.7 509.3L1196.2 509.2L1196.8 507.7L1197.3 505.6L1197.8 504.1L1198.4 504.0L1198.9 505.0L1199.5 506.6L1200.0 507.8L1200.5 508.1L1201.1 507.4L1201.6 506.3L1202.2 505.5L1202.7 505.3L1203.2 505.7L1203.8 506.4L1204.3 506.8L1204.9 506.7L1205.4 506.4L1205.9 506.1L1206.5 506.1L1207.0 506.5L1207.6 506.9L1208.1 507.1L1208.6 506.7L1209.2 505.9L1209.7 505.2L1210.3 505.1L1210.8 505.7L1211.3 506.8L1211.9 507.8L1212.4 508.2L1213.0 507.5L1213.5 506.1L1214.0 504.7L1214.6 504.1L1215.1 504.7L1215.7 506.3L1216.2 508.0L1216.7 508.8L1217.3 508.4L1217.8 506.8L1218.4 505.0L1218.9 503.9L1219.4 504.1L1220.0 505.5L1220.5 507.4L1221.1 508.6L1221.6 508.6L1222.1 507.4L1222.7 505.7L1223.2 504.4L1223.8 504.3L1224.3 505.2L1224.8 506.6L1225.4 507.8L1225.9 508.0L1226.5 507.4L1227.0 506.3L1227.5 505.4L1228.1 505.2L1228.6 505.6L1229.2 506.3L1229.7 506.8L1230.2 507.0L1230.8 506.8L1231.3 506.4L1231.9 506.2L1232.4 506.2L1232.9 506.4L1233.5 506.5L1234.0 506.4L1234.6 506.1L1235.1 505.9L1235.6 505.9L1236.2 506.3L1236.7 506.7L1237.3 507.1L1237.8 507.1L1238.3 506.7L1238.9 506.0L1239.4 505.5L1240.0 505.3L1240.5 505.7L1241.0 506.4L1241.6 507.1L1242.1 507.6L1242.7 507.5L1243.2 506.8L1243.7 505.9L1244.3 505.2L1244.8 504.9L1245.4 505.3L1245.9 506.2L1246.4 507.3L1247.0 507.9L1247.5 507.9L1248.1 507.1L1248.6 505.9L1249.1 504.9L1249.7 504.5L1250.2 505.0L1250.8 506.2L1251.3 507.5L1251.8 508.3L1252.4 508.2L1252.9 507.1L1253.5 505.7L1254.0 504.6L1254.5 504.4L1255.1 505.1L1255.6 506.4L1256.2 507.6L1256.7 508.2L1257.2 507.8L1257.8 506.8L1258.3 505.7L1258.9 505.0L1259.4 505.0L1259.9 505.6L1260.5 506.4L1261.0 507.0L1261.6 507.3L1262.1 507.1L1262.6 506.8L1263.2 506.4L1263.7 506.1L1264.3 505.9L1264.8 505.7L1265.3 505.6L1265.9 505.8L1266.4 506.3L1267.0 506.9L1267.5 507.4L1268.0 507.6L1268.6 507.1L1269.1 506.2L1269.7 505.2L1270.2 504.7L1270.7 505.0L1271.3 506.0L1271.8 507.2L1272.4 508.0L1272.9 508.1L1273.4 507.3L1274.0 506.0L1274.5 505.0L1275.1 504.6L1275.6 505.1L1276.1 506.1L1276.7 507.1L1277.2 507.7L1277.8 507.7L1278.3 507.1L1278.8 506.3L1279.4 505.7L1279.9 505.3L1280.5 505.4L1281.0 505.6L1281.5 506.1L1282.1 506.7L1282.6 507.3L1283.2 507.6L1283.7 507.4L1284.2 506.8L1284.8 505.8L1285.3 504.9L1285.9 504.6L1286.4 505.1L1286.9 506.3L1287.5 507.6L1288.0 508.4L1288.6 508.2L1289.1 507.0L1289.6 505.5L1290.2 504.4L1290.7 504.3L1291.3 505.2L1291.8 506.7L1292.3 507.9L1292.9 508.2L1293.4 507.6L1294.0 506.4L1294.5 505.3L1295.0 505.0L1295.6 505.4L1296.1 506.2L1296.7 506.8L1297.2 506.9" stroke="#cccc00" stroke-width="2.25" fill="none" stroke-linejoin="round"/>
<path d="M330.7 260.9C332.6 260.8 335.4 260.5 341.9 260.5C348.4 260.5 362.3 263.0 369.9 263.0C377.5 263.0 380.4 262.3 387.4 262.3C394.4 262.3 403.1 264.3 411.8 265.4C420.5 266.4 429.3 267.7 439.8 268.6C450.3 269.5 463.1 271.0 474.7 271.0C486.3 271.0 500.3 268.9 509.6 268.2C518.9 267.4 523.6 266.5 530.6 266.5C537.6 266.5 543.5 267.9 551.6 267.9C559.8 267.9 569.0 266.5 579.5 266.5C590.0 266.5 605.2 270.0 614.5 270.0C623.8 270.0 628.4 268.6 635.4 268.6C642.4 268.6 648.2 271.0 656.4 271.0C664.5 271.0 676.7 266.8 684.3 266.8C691.9 266.8 693.0 267.5 701.8 267.5C710.5 267.5 725.1 264.6 736.8 263.3C748.4 262.0 761.2 260.7 771.7 259.5C782.2 258.3 791.0 257.3 799.7 256.0C808.4 254.7 817.1 251.8 824.1 251.8C831.1 251.8 834.6 252.8 841.6 252.8C848.6 252.8 857.7 250.9 866.0 250.4C874.3 249.9 883.4 250.1 891.3 250.1C899.2 250.1 903.9 252.0 913.3 252.0C922.7 252.0 938.3 252.0 947.7 251.6C957.1 251.2 960.7 250.2 969.6 249.4C978.5 248.6 992.1 246.9 1001.0 246.9C1009.9 246.9 1015.6 247.6 1022.9 247.6C1030.2 247.6 1037.5 247.5 1044.8 246.9C1052.1 246.3 1059.0 245.0 1066.8 244.1C1074.6 243.2 1084.5 241.6 1091.8 241.6C1099.1 241.6 1103.3 243.5 1110.6 243.5C1117.9 243.5 1127.3 240.4 1135.7 240.4C1144.1 240.4 1152.5 242.2 1160.8 242.6C1169.1 243.0 1178.5 243.0 1185.8 242.6C1193.1 242.2 1196.2 241.0 1204.6 240.0C1212.9 239.0 1226.5 236.6 1235.9 236.6C1245.3 236.6 1254.7 236.9 1261.0 236.9C1267.3 236.9 1269.1 235.4 1273.5 234.7C1277.9 234.0 1285.2 232.9 1287.6 232.5" stroke="#0000ff" stroke-width="4.4" fill="none" stroke-linejoin="round" stroke-linecap="round"/>
<path d="M357.7 321.0C359.1 320.8 363.8 319.6 366.4 319.6C369.0 319.6 369.9 320.1 373.4 322.0C376.9 323.9 383.3 329.4 387.4 331.1C391.5 332.9 392.6 332.3 397.8 332.5C403.0 332.7 414.1 332.9 418.8 332.5C423.5 332.1 422.3 331.9 425.8 330.0C429.3 328.1 435.7 323.0 439.8 321.3C443.9 319.6 447.0 320.0 450.2 319.6C453.4 319.2 456.1 320.4 459.0 319.2C461.9 318.0 464.5 315.6 467.7 312.6C470.9 309.6 474.7 303.6 478.2 301.1C481.7 298.6 483.5 298.6 488.7 297.6C493.9 296.6 503.8 295.1 509.6 295.1C515.4 295.1 518.4 298.2 523.6 300.4C528.9 302.6 534.7 307.0 541.1 308.4C547.5 309.8 556.3 307.7 562.1 308.7C567.9 309.7 570.8 312.0 576.0 314.3C581.2 316.6 588.8 322.4 593.5 322.4C598.2 322.4 600.2 320.1 604.0 318.2C607.8 316.3 612.1 310.8 616.2 310.8C620.3 310.8 624.9 315.8 628.4 317.1C631.9 318.5 634.3 318.9 637.2 318.9C640.1 318.9 642.7 315.8 645.9 311.5C649.1 307.2 652.9 297.3 656.4 293.4C659.9 289.4 663.4 287.8 666.9 287.8C670.4 287.8 673.6 291.6 677.4 293.4C681.2 295.2 685.5 298.6 689.6 298.6C693.7 298.6 696.8 295.0 701.8 292.7C706.8 290.4 712.9 286.4 719.3 285.0C725.7 283.6 734.4 284.6 740.2 284.6C746.0 284.6 748.4 285.0 754.2 285.0C760.0 285.0 769.4 284.8 775.2 283.6C781.0 282.4 784.6 279.6 789.2 277.7C793.9 275.8 799.0 271.9 803.1 271.9C807.2 271.9 810.1 271.2 813.6 274.2C817.1 277.2 820.6 286.0 824.1 289.9C827.6 293.8 830.2 297.6 834.6 297.6C839.0 297.6 845.1 295.1 850.3 295.1C855.5 295.1 861.8 300.0 866.0 302.1C870.2 304.2 870.2 304.4 875.7 307.7C881.2 311.0 891.4 321.8 899.2 321.8C907.0 321.8 915.7 315.2 922.7 310.8C929.8 306.4 934.7 299.6 941.5 295.2C948.3 290.8 956.1 284.2 963.4 284.2C970.7 284.2 977.5 286.6 985.3 290.5C993.1 294.4 1003.6 307.7 1010.4 307.7C1017.2 307.7 1019.7 309.2 1026.0 306.2C1032.3 303.2 1042.2 293.2 1048.0 289.5C1053.8 285.8 1055.8 284.2 1060.5 284.2C1065.2 284.2 1070.5 285.9 1076.2 290.5C1082.0 295.1 1089.8 311.5 1095.0 311.5C1100.2 311.5 1103.6 300.7 1107.5 296.8C1111.4 292.9 1114.8 288.3 1118.5 288.3C1122.2 288.3 1124.7 293.2 1129.4 298.3C1134.1 303.4 1140.3 318.7 1146.6 318.7C1152.9 318.7 1160.0 313.7 1167.0 309.3C1174.0 304.9 1182.4 296.3 1188.9 292.1C1195.4 287.9 1199.9 284.2 1206.2 284.2C1212.5 284.2 1220.8 288.1 1226.5 290.5C1232.2 292.9 1236.9 298.3 1240.6 298.3C1244.3 298.3 1247.2 295.7 1248.5 295.2" stroke="#00c8c8" stroke-width="2.3" fill="none" stroke-linejoin="round" stroke-linecap="round"/>
<path d="M1135.3 638.4H1297.1M1135.3 631.8V645.2M1297.1 631.8V645.2" stroke="#bebebe" stroke-width="4.4" fill="none"/>
<path d="M211.7 487V526M204.8 487H218.8M204.8 526H218.8" stroke="#bebebe" stroke-width="2.5" fill="none"/>
<circle cx="211.7" cy="506.7" r="4.2" fill="#000"/>
<path d="M163.3 110.6H1459.3V902.1H163.3Z" fill="none" stroke="#000" stroke-width="2.3"/>
<path d="M163.2 902.1v11.2M163.2 110.6v-11.2M179.4 902.1v5.4M179.4 110.6v-5.4M195.6 902.1v5.4M195.6 110.6v-5.4M211.8 902.1v5.4M211.8 110.6v-5.4M228.0 902.1v5.4M228.0 110.6v-5.4M244.2 902.1v5.4M244.2 110.6v-5.4M260.4 902.1v5.4M260.4 110.6v-5.4M276.6 902.1v5.4M276.6 110.6v-5.4M292.8 902.1v5.4M292.8 110.6v-5.4M309.0 902.1v5.4M309.0 110.6v-5.4M325.2 902.1v11.2M325.2 110.6v-11.2M341.4 902.1v5.4M341.4 110.6v-5.4M357.6 902.1v5.4M357.6 110.6v-5.4M373.8 902.1v5.4M373.8 110.6v-5.4M390.0 902.1v5.4M390.0 110.6v-5.4M406.2 902.1v5.4M406.2 110.6v-5.4M422.4 902.1v5.4M422.4 110.6v-5.4M438.6 902.1v5.4M438.6 110.6v-5.4M454.8 902.1v5.4M454.8 110.6v-5.4M471.0 902.1v5.4M471.0 110.6v-5.4M487.2 902.1v11.2M487.2 110.6v-11.2M503.4 902.1v5.4M503.4 110.6v-5.4M519.6 902.1v5.4M519.6 110.6v-5.4M535.8 902.1v5.4M535.8 110.6v-5.4M552.0 902.1v5.4M552.0 110.6v-5.4M568.2 902.1v5.4M568.2 110.6v-5.4M584.4 902.1v5.4M584.4 110.6v-5.4M600.6 902.1v5.4M600.6 110.6v-5.4M616.8 902.1v5.4M616.8 110.6v-5.4M633.0 902.1v5.4M633.0 110.6v-5.4M649.2 902.1v11.2M649.2 110.6v-11.2M665.4 902.1v5.4M665.4 110.6v-5.4M681.6 902.1v5.4M681.6 110.6v-5.4M697.8 902.1v5.4M697.8 110.6v-5.4M714.0 902.1v5.4M714.0 110.6v-5.4M730.2 902.1v5.4M730.2 110.6v-5.4M746.4 902.1v5.4M746.4 110.6v-5.4M762.6 902.1v5.4M762.6 110.6v-5.4M778.8 902.1v5.4M778.8 110.6v-5.4M795.0 902.1v5.4M795.0 110.6v-5.4M811.2 902.1v11.2M811.2 110.6v-11.2M827.4 902.1v5.4M827.4 110.6v-5.4M843.6 902.1v5.4M843.6 110.6v-5.4M859.8 902.1v5.4M859.8 110.6v-5.4M876.0 902.1v5.4M876.0 110.6v-5.4M892.2 902.1v5.4M892.2 110.6v-5.4M908.4 902.1v5.4M908.4 110.6v-5.4M924.6 902.1v5.4M924.6 110.6v-5.4M940.8 902.1v5.4M940.8 110.6v-5.4M957.0 902.1v5.4M957.0 110.6v-5.4M973.2 902.1v11.2M973.2 110.6v-11.2M989.4 902.1v5.4M989.4 110.6v-5.4M1005.6 902.1v5.4M1005.6 110.6v-5.4M1021.8 902.1v5.4M1021.8 110.6v-5.4M1038.0 902.1v5.4M1038.0 110.6v-5.4M1054.2 902.1v5.4M1054.2 110.6v-5.4M1070.4 902.1v5.4M1070.4 110.6v-5.4M1086.6 902.1v5.4M1086.6 110.6v-5.4M1102.8 902.1v5.4M1102.8 110.6v-5.4M1119.0 902.1v5.4M1119.0 110.6v-5.4M1135.2 902.1v11.2M1135.2 110.6v-11.2M1151.4 902.1v5.4M1151.4 110.6v-5.4M1167.6 902.1v5.4M1167.6 110.6v-5.4M1183.8 902.1v5.4M1183.8 110.6v-5.4M1200.0 902.1v5.4M1200.0 110.6v-5.4M1216.2 902.1v5.4M1216.2 110.6v-5.4M1232.4 902.1v5.4M1232.4 110.6v-5.4M1248.6 902.1v5.4M1248.6 110.6v-5.4M1264.8 902.1v5.4M1264.8 110.6v-5.4M1281.0 902.1v5.4M1281.0 110.6v-5.4M1297.2 902.1v11.2M1297.2 110.6v-11.2M1313.4 902.1v5.4M1313.4 110.6v-5.4M1329.6 902.1v5.4M1329.6 110.6v-5.4M1345.8 902.1v5.4M1345.8 110.6v-5.4M1362.0 902.1v5.4M1362.0 110.6v-5.4M1378.2 902.1v5.4M1378.2 110.6v-5.4M1394.4 902.1v5.4M1394.4 110.6v-5.4M1410.6 902.1v5.4M1410.6 110.6v-5.4M1426.8 902.1v5.4M1426.8 110.6v-5.4M1443.0 902.1v5.4M1443.0 110.6v-5.4M1459.2 902.1v11.2M1459.2 110.6v-11.2M163.3 902.1h-11.2M163.3 892.2h-5.4M163.3 882.3h-5.4M163.3 872.4h-5.4M163.3 862.5h-5.4M163.3 852.6h-5.4M163.3 842.7h-5.4M163.3 832.8h-5.4M163.3 823.0h-5.4M163.3 813.1h-5.4M163.3 803.2h-11.2M163.3 793.3h-5.4M163.3 783.4h-5.4M163.3 773.5h-5.4M163.3 763.6h-5.4M163.3 753.7h-5.4M163.3 743.8h-5.4M163.3 733.9h-5.4M163.3 724.0h-5.4M163.3 714.1h-5.4M163.3 704.2h-11.2M163.3 694.3h-5.4M163.3 684.4h-5.4M163.3 674.5h-5.4M163.3 664.7h-5.4M163.3 654.8h-5.4M163.3 644.9h-5.4M163.3 635.0h-5.4M163.3 625.1h-5.4M163.3 615.2h-5.4M163.3 605.3h-11.2M163.3 595.4h-5.4M163.3 585.5h-5.4M163.3 575.6h-5.4M163.3 565.7h-5.4M163.3 555.8h-5.4M163.3 545.9h-5.4M163.3 536.0h-5.4M163.3 526.1h-5.4M163.3 516.2h-5.4M163.3 506.4h-11.2M163.3 496.5h-5.4M163.3 486.6h-5.4M163.3 476.7h-5.4M163.3 466.8h-5.4M163.3 456.9h-5.4M163.3 447.0h-5.4M163.3 437.1h-5.4M163.3 427.2h-5.4M163.3 417.3h-5.4M163.3 407.4h-11.2M163.3 397.5h-5.4M163.3 387.6h-5.4M163.3 377.7h-5.4M163.3 367.8h-5.4M163.3 357.9h-5.4M163.3 348.1h-5.4M163.3 338.2h-5.4M163.3 328.3h-5.4M163.3 318.4h-5.4M163.3 308.5h-11.2M163.3 298.6h-5.4M163.3 288.7h-5.4M163.3 278.8h-5.4M163.3 268.9h-5.4M163.3 259.0h-5.4M163.3 249.1h-5.4M163.3 239.2h-5.4M163.3 229.3h-5.4M163.3 219.4h-5.4M163.3 209.5h-11.2M163.3 199.6h-5.4M163.3 189.8h-5.4M163.3 179.9h-5.4M163.3 170.0h-5.4M163.3 160.1h-5.4M163.3 150.2h-5.4M163.3 140.3h-5.4M163.3 130.4h-5.4M163.3 120.5h-5.4M163.3 110.6h-11.2M1459.3 489.9h5.4M1459.3 473.4h5.4M1459.3 456.9h5.4M1459.3 440.4h11.2M1459.3 423.9h5.4M1459.3 407.4h5.4M1459.3 390.9h5.4M1459.3 374.4h11.2M1459.3 357.9h5.4M1459.3 341.5h5.4M1459.3 325.0h5.4M1459.3 308.5h11.2M1459.3 292.0h5.4M1459.3 275.5h5.4M1459.3 259.0h5.4M1459.3 242.5h11.2M1459.3 226.0h5.4M1459.3 209.5h5.4M1459.3 193.0h5.4M1459.3 176.6h11.2M1459.3 160.1h5.4M1459.3 143.6h5.4M1459.3 127.1h5.4M1459.3 902.1h11.2M1459.3 888.9h5.4M1459.3 875.7h5.4M1459.3 862.5h5.4M1459.3 849.3h5.4M1459.3 836.1h11.2M1459.3 823.0h5.4M1459.3 809.8h5.4M1459.3 796.6h5.4M1459.3 783.4h5.4M1459.3 770.2h11.2M1459.3 757.0h5.4M1459.3 743.8h5.4M1459.3 730.6h5.4M1459.3 717.4h5.4M1459.3 704.2h11.2M1459.3 691.0h5.4M1459.3 677.8h5.4M1459.3 664.7h5.4M1459.3 651.5h5.4M1459.3 638.3h11.2M1459.3 625.1h5.4M1459.3 611.9h5.4M1459.3 598.7h5.4M1459.3 585.5h5.4M1459.3 572.3h11.2M1459.3 559.1h5.4M1459.3 545.9h5.4M1459.3 532.7h5.4M1459.3 519.5h5.4" stroke="#000" stroke-width="1.2" fill="none"/>
<path d="M1329.4 110.6H1362M1346 150.2h8M1346 189.8h8M1346 229.4h8M1346 269.0h8M1346 348.2h8M1346 387.8h8M1346 427.4h8M1346 467.0h8M1329.4 506.6H1362M1346 110.6V506.6M325.2 309H1362" stroke="#009999" stroke-width="1.2" fill="none"/>
<text x="560" y="82.4" font-size="32.33" font-weight="bold">SCG_054 gravimeter Onsala Space Observatory, Sweden</text>
<text x="1078" y="153.9" font-size="24.15" font-weight="bold">Stand-in barom. 20m</text>
<text x="192.5" y="887.8" font-size="28.06" font-weight="bold">The latest 1-hour, 1-second sampling</text>
<text x="1012.5" y="888.1" font-size="27.85" font-weight="bold">End at 2025-08-26 21:00:59 UTC</text>
<text x="360" y="1005.9" font-size="48.17">Time [min] from 2025-08-26 20:01:00 UTC</text>
<text transform="translate(59,506.5) rotate(-90)" text-anchor="middle" font-size="48.2">Obs’d Gravity [nm/s<tspan font-size="34" dy="-16.5">2</tspan><tspan dy="16.5">]</tspan></text>
<text transform="translate(1627.3,307.5) rotate(-90)" text-anchor="middle" font-size="48.4">Pressure [hPa]</text>
<text transform="translate(1612.5,704.5) rotate(-90)" text-anchor="middle" font-size="48.2">Tide [nm/s<tspan font-size="34" dy="-16.5">2</tspan><tspan dy="16.5">]</tspan></text>
<text transform="translate(1388.2,308.5) rotate(-90)" text-anchor="middle" font-size="24.4">1 DIV = 1 hPa/h</text>
<text transform="translate(1429,309) rotate(-90)" text-anchor="middle" font-size="23.9">average = 0.1650</text>
<text transform="translate(244.5,506.5) rotate(-90)" text-anchor="middle" font-size="24.25">Typical noise level</text>
<rect x="166.5" y="18.5" width="372" height="163" fill="#fff" stroke="#858585" stroke-width="1"/>
<text x="279.5" y="47.6" font-size="24.2">Pressure</text>
<text x="279.5" y="77.8" font-size="24.2">dP/dt</text>
<text x="279.5" y="108.3" font-size="24.2">Residual</text>
<text x="279.5" y="138.8" font-size="24.2">... last 10 min.</text>
<text x="279.5" y="169.5" font-size="24.2">Theor.Tide</text>
<path d="M204 39.3H260" stroke="#0000ff" stroke-width="0.75"/><circle cx="232.2" cy="39.3" r="4.1" fill="#0000ff"/>
<path d="M204 69.5H260" stroke="#00c8c8" stroke-width="0.75"/><circle cx="232.2" cy="69.4" r="4.1" fill="#00c8c8"/>
<path d="M204 100.4H260" stroke="#000" stroke-width="2.7"/>
<path d="M204 130.5H260" stroke="#bebebe" stroke-width="3"/>
<path d="M204 161.2H260" stroke="#ff0000" stroke-width="0.75"/><circle cx="232.2" cy="161.2" r="4.1" fill="#ff0000"/>
<g font-size="28.3"><text x="141.5" y="912.1" text-anchor="end">-400</text>
<text x="141.5" y="813.2" text-anchor="end">-300</text>
<text x="141.5" y="714.3" text-anchor="end">-200</text>
<text x="141.5" y="615.3" text-anchor="end">-100</text>
<text x="141.5" y="516.4" text-anchor="end">0</text>
<text x="141.5" y="417.5" text-anchor="end">100</text>
<text x="141.5" y="318.5" text-anchor="end">200</text>
<text x="141.5" y="219.6" text-anchor="end">300</text>
<text x="141.5" y="120.6" text-anchor="end">400</text>
<text x="163.2" y="944.3" text-anchor="middle">-10</text>
<text x="325.2" y="944.3" text-anchor="middle">0</text>
<text x="487.2" y="944.3" text-anchor="middle">10</text>
<text x="649.2" y="944.3" text-anchor="middle">20</text>
<text x="811.2" y="944.3" text-anchor="middle">30</text>
<text x="973.2" y="944.3" text-anchor="middle">40</text>
<text x="1135.2" y="944.3" text-anchor="middle">50</text>
<text x="1297.2" y="944.3" text-anchor="middle">60</text>
<text x="1459.2" y="944.3" text-anchor="middle">70</text>
<text x="1482" y="186.6">1010.4</text>
<text x="1482" y="252.6">1010.0</text>
<text x="1482" y="318.5">1009.6</text>
<text x="1482" y="384.5">1009.2</text>
<text x="1482" y="450.4">1008.8</text>
<text x="1550" y="582.4" text-anchor="end">1000</text>
<text x="1550" y="648.3" text-anchor="end">500</text>
<text x="1550" y="714.3" text-anchor="end">0</text>
<text x="1550" y="780.2" text-anchor="end">-500</text>
<text x="1550" y="846.2" text-anchor="end">-1000</text>
<text x="1550" y="912.1" text-anchor="end">-1500</text></g>
</svg></body></html>
